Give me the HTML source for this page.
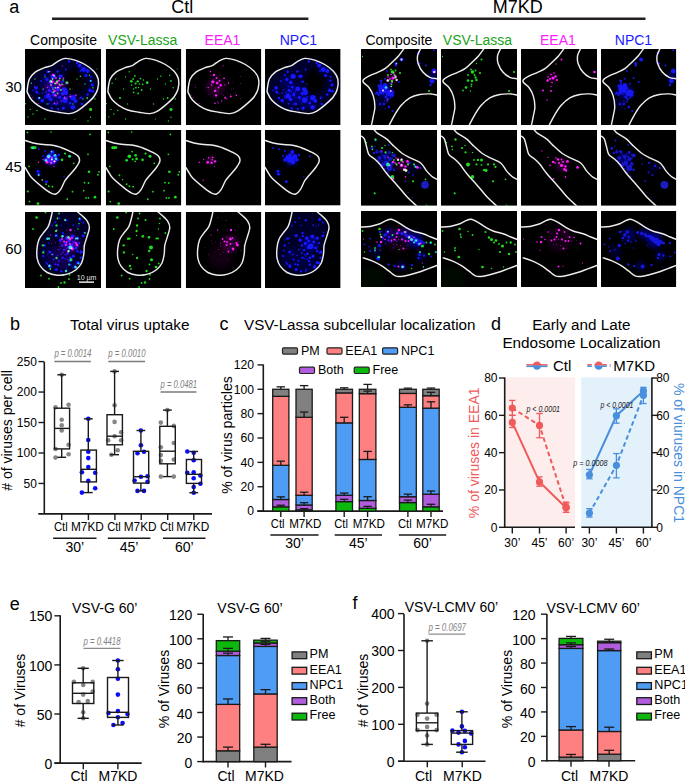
<!DOCTYPE html>
<html><head><meta charset="utf-8"><style>
html,body{margin:0;padding:0;background:#fff;}
body{width:685px;height:782px;overflow:hidden;}
svg{display:block;font-family:'Liberation Sans', sans-serif;}
</style></head><body>
<svg width="685" height="782" viewBox="0 0 685 782">
<defs><filter id="bl" x="-10%" y="-10%" width="120%" height="120%"><feGaussianBlur stdDeviation="0.45"/></filter><filter id="bl2" x="-50%" y="-50%" width="200%" height="200%"><feGaussianBlur stdDeviation="2.2"/></filter><g id="Bc1"><polygon points="2.2,41.0 4.4,30.0 10.0,23.3 18.9,18.9 26.6,16.6 32.2,12.8 40.0,9.4 50.0,11.1 60.0,15.5 68.8,22.2 73.2,30.0 72.7,40.0 68.8,47.7 62.1,54.4 52.1,62.1 44.4,64.6 33.3,63.2 22.2,61.0 13.3,56.6 6.7,51.0 2.8,44.4" fill="#00002e" filter="url(#bl2)"/><ellipse cx="50" cy="32" rx="10" ry="13" fill="#000" filter="url(#bl2)"/><g filter="url(#bl2)"><circle cx="30" cy="45" r="10" fill="#0a0ad2" fill-opacity="0.35"/><circle cx="22" cy="33" r="6" fill="#0a0ad2" fill-opacity="0.3"/><circle cx="58" cy="21" r="5" fill="#0a0ad2" fill-opacity="0.3"/><circle cx="42" cy="52" r="7" fill="#0a0ad2" fill-opacity="0.3"/></g><g filter="url(#bl)"><circle cx="28.40" cy="27.30" r="2.60" fill="#1414ff"/><circle cx="22.70" cy="22.80" r="1.30" fill="#1414ff"/><circle cx="22.00" cy="30.50" r="1.60" fill="#1414ff"/><circle cx="25.90" cy="33.40" r="1.80" fill="#1414ff"/><circle cx="35.50" cy="27.30" r="1.90" fill="#1414ff"/><circle cx="32.60" cy="22.50" r="1.30" fill="#1414ff"/><circle cx="32.90" cy="39.80" r="2.40" fill="#1414ff"/><circle cx="27.50" cy="38.20" r="1.40" fill="#1414ff"/><circle cx="24.30" cy="41.40" r="1.60" fill="#1414ff"/><circle cx="11.20" cy="38.80" r="1.90" fill="#1414ff"/><circle cx="11.80" cy="43.00" r="1.60" fill="#1414ff"/><circle cx="8.30" cy="41.40" r="0.80" fill="#1414ff"/><circle cx="23.00" cy="47.10" r="2.60" fill="#1414ff"/><circle cx="25.60" cy="50.30" r="1.90" fill="#1414ff"/><circle cx="17.30" cy="51.60" r="1.90" fill="#1414ff"/><circle cx="14.10" cy="49.00" r="1.20" fill="#1414ff"/><circle cx="28.80" cy="45.80" r="1.60" fill="#1414ff"/><circle cx="34.50" cy="48.40" r="1.60" fill="#1414ff"/><circle cx="37.70" cy="44.60" r="1.80" fill="#1414ff"/><circle cx="38.30" cy="40.10" r="1.40" fill="#1414ff"/><circle cx="39.00" cy="51.60" r="1.60" fill="#1414ff"/><circle cx="26.80" cy="59.30" r="1.20" fill="#1414ff"/><circle cx="38.30" cy="59.30" r="1.40" fill="#1414ff"/><circle cx="23.60" cy="54.80" r="1.00" fill="#1414ff"/><circle cx="17.30" cy="43.90" r="0.80" fill="#1414ff"/><circle cx="21.10" cy="43.30" r="0.90" fill="#1414ff"/><circle cx="29.40" cy="43.90" r="1.00" fill="#1414ff"/><circle cx="37.00" cy="33.00" r="1.00" fill="#1414ff"/><circle cx="54.50" cy="16.50" r="2.00" fill="#1414ff"/><circle cx="58.50" cy="20.50" r="2.40" fill="#1414ff"/><circle cx="62.60" cy="22.10" r="2.00" fill="#1414ff"/><circle cx="61.00" cy="26.50" r="1.60" fill="#1414ff"/><circle cx="44.00" cy="12.40" r="1.20" fill="#1414ff"/><circle cx="65.80" cy="31.80" r="1.20" fill="#1414ff"/><circle cx="67.40" cy="35.80" r="1.60" fill="#1414ff"/><circle cx="65.00" cy="41.40" r="1.80" fill="#1414ff"/><circle cx="67.80" cy="42.20" r="1.40" fill="#1414ff"/><circle cx="62.60" cy="45.50" r="1.20" fill="#1414ff"/><circle cx="56.10" cy="48.70" r="1.20" fill="#1414ff"/><circle cx="39.60" cy="40.60" r="2.40" fill="#1414ff"/><circle cx="40.80" cy="43.80" r="2.40" fill="#1414ff"/><circle cx="48.10" cy="48.70" r="2.80" fill="#1414ff"/><circle cx="50.50" cy="51.90" r="2.00" fill="#1414ff"/><circle cx="40.00" cy="51.10" r="2.80" fill="#1414ff"/><circle cx="48.00" cy="58.30" r="2.40" fill="#1414ff"/><circle cx="38.40" cy="59.10" r="1.60" fill="#1414ff"/><circle cx="57.00" cy="55.00" r="1.20" fill="#1414ff"/><circle cx="36.80" cy="27.00" r="1.20" fill="#1414ff"/><circle cx="38.40" cy="32.60" r="1.00" fill="#1414ff"/><circle cx="40.80" cy="20.50" r="0.90" fill="#1414ff"/><circle cx="20.00" cy="26.00" r="1.00" fill="#1414ff"/><circle cx="16.00" cy="32.00" r="1.00" fill="#1414ff"/><circle cx="45.00" cy="54.00" r="1.50" fill="#1414ff"/><circle cx="31.00" cy="55.00" r="1.50" fill="#1414ff"/><circle cx="33.00" cy="60.00" r="1.20" fill="#1414ff"/><circle cx="52.00" cy="14.00" r="1.20" fill="#1414ff"/><circle cx="66.00" cy="28.00" r="1.00" fill="#1414ff"/><circle cx="36.47" cy="54.43" r="0.44" fill="#1414ff"/><circle cx="25.70" cy="47.07" r="0.65" fill="#1414ff"/><circle cx="24.52" cy="46.23" r="0.45" fill="#1414ff"/><circle cx="30.39" cy="41.36" r="0.51" fill="#1414ff"/><circle cx="40.42" cy="41.61" r="0.60" fill="#1414ff"/><circle cx="31.09" cy="48.15" r="0.55" fill="#1414ff"/><circle cx="13.74" cy="44.20" r="0.72" fill="#1414ff"/><circle cx="24.56" cy="44.15" r="0.43" fill="#1414ff"/><circle cx="23.53" cy="37.34" r="0.56" fill="#1414ff"/><circle cx="19.92" cy="46.96" r="0.80" fill="#1414ff"/><circle cx="28.48" cy="55.45" r="0.66" fill="#1414ff"/><circle cx="55.44" cy="21.88" r="0.89" fill="#1414ff"/><circle cx="13.35" cy="51.62" r="0.48" fill="#1414ff"/><circle cx="42.41" cy="47.90" r="0.78" fill="#1414ff"/><circle cx="34.15" cy="40.11" r="0.75" fill="#1414ff"/><circle cx="18.32" cy="40.75" r="0.82" fill="#1414ff"/><circle cx="36.03" cy="50.48" r="0.43" fill="#1414ff"/><circle cx="21.63" cy="29.32" r="0.73" fill="#1414ff"/><circle cx="22.11" cy="46.16" r="0.46" fill="#1414ff"/><circle cx="28.60" cy="40.82" r="0.52" fill="#1414ff"/><circle cx="30.83" cy="42.63" r="0.62" fill="#1414ff"/><circle cx="41.75" cy="35.10" r="0.83" fill="#1414ff"/><circle cx="19.88" cy="48.83" r="0.84" fill="#1414ff"/><circle cx="29.20" cy="54.17" r="0.69" fill="#1414ff"/><circle cx="38.42" cy="45.21" r="0.58" fill="#1414ff"/><circle cx="42.65" cy="41.44" r="0.66" fill="#1414ff"/><circle cx="26.51" cy="42.62" r="0.85" fill="#1414ff"/><circle cx="24.24" cy="47.22" r="0.72" fill="#1414ff"/><circle cx="34.24" cy="47.25" r="0.48" fill="#1414ff"/><circle cx="28.20" cy="45.06" r="0.48" fill="#1414ff"/></g></g><g id="Mc1"><g filter="url(#bl2)"><circle cx="30" cy="38" r="10" fill="#c800c8" fill-opacity="0.18"/></g><g filter="url(#bl)"><circle cx="28.30" cy="26.00" r="1.20" fill="#ff1aff"/><circle cx="27.20" cy="32.80" r="1.60" fill="#ff1aff"/><circle cx="31.70" cy="34.00" r="1.36" fill="#ff1aff"/><circle cx="35.10" cy="36.20" r="1.20" fill="#ff1aff"/><circle cx="34.00" cy="31.70" r="1.04" fill="#ff1aff"/><circle cx="29.40" cy="41.90" r="1.20" fill="#ff1aff"/><circle cx="30.50" cy="46.40" r="1.20" fill="#ff1aff"/><circle cx="39.60" cy="48.70" r="0.96" fill="#ff1aff"/><circle cx="45.30" cy="47.50" r="0.96" fill="#ff1aff"/><circle cx="50.90" cy="46.40" r="0.80" fill="#ff1aff"/><circle cx="29.40" cy="54.30" r="0.80" fill="#ff1aff"/><circle cx="24.90" cy="22.60" r="0.80" fill="#ff1aff"/><circle cx="38.50" cy="29.40" r="0.80" fill="#ff1aff"/><circle cx="43.00" cy="34.00" r="0.80" fill="#ff1aff"/><circle cx="22.60" cy="38.50" r="0.64" fill="#ff1aff"/><circle cx="36.20" cy="52.00" r="0.64" fill="#ff1aff"/><circle cx="31.00" cy="29.00" r="0.96" fill="#ff1aff"/><circle cx="33.00" cy="38.50" r="0.96" fill="#ff1aff"/><circle cx="26.00" cy="36.00" r="0.80" fill="#ff1aff"/><circle cx="34.62" cy="26.22" r="0.43" fill="#ff1aff"/><circle cx="38.06" cy="46.12" r="0.45" fill="#ff1aff"/><circle cx="31.41" cy="39.35" r="0.26" fill="#ff1aff"/><circle cx="25.05" cy="26.46" r="0.43" fill="#ff1aff"/><circle cx="20.77" cy="38.84" r="0.37" fill="#ff1aff"/><circle cx="38.76" cy="35.87" r="0.52" fill="#ff1aff"/><circle cx="39.63" cy="63.37" r="0.30" fill="#ff1aff"/><circle cx="41.43" cy="49.47" r="0.51" fill="#ff1aff"/><circle cx="38.60" cy="29.22" r="0.50" fill="#ff1aff"/><circle cx="35.74" cy="61.21" r="0.38" fill="#ff1aff"/><circle cx="45.79" cy="40.26" r="0.37" fill="#ff1aff"/><circle cx="39.40" cy="47.10" r="0.33" fill="#ff1aff"/><circle cx="40.42" cy="35.20" r="0.35" fill="#ff1aff"/><circle cx="47.67" cy="39.90" r="0.34" fill="#ff1aff"/><circle cx="32.46" cy="43.11" r="0.27" fill="#ff1aff"/><circle cx="31.70" cy="51.90" r="0.29" fill="#ff1aff"/><circle cx="54.98" cy="34.35" r="0.47" fill="#ff1aff"/><circle cx="55.37" cy="27.70" r="0.40" fill="#ff1aff"/><circle cx="50.00" cy="44.97" r="0.37" fill="#ff1aff"/><circle cx="27.44" cy="33.53" r="0.25" fill="#ff1aff"/><circle cx="9.68" cy="35.89" r="0.34" fill="#ff1aff"/><circle cx="27.82" cy="32.97" r="0.40" fill="#ff1aff"/><circle cx="36.24" cy="45.16" r="0.30" fill="#ff1aff"/><circle cx="37.78" cy="16.72" r="0.50" fill="#ff1aff"/><circle cx="41.47" cy="44.94" r="0.27" fill="#ff1aff"/><circle cx="32.25" cy="52.97" r="0.50" fill="#ff1aff"/><circle cx="23.29" cy="45.39" r="0.39" fill="#ff1aff"/><circle cx="30.93" cy="43.04" r="0.32" fill="#ff1aff"/><circle cx="9.57" cy="38.26" r="0.42" fill="#ff1aff"/><circle cx="16.41" cy="20.60" r="0.31" fill="#ff1aff"/><circle cx="7.27" cy="48.28" r="0.48" fill="#ff1aff"/><circle cx="42.88" cy="33.10" r="0.41" fill="#ff1aff"/><circle cx="13.46" cy="54.41" r="0.48" fill="#ff1aff"/><circle cx="40.56" cy="50.03" r="0.44" fill="#ff1aff"/><circle cx="54.85" cy="49.20" r="0.46" fill="#ff1aff"/><circle cx="30.04" cy="39.10" r="0.47" fill="#ff1aff"/><circle cx="46.88" cy="33.06" r="0.33" fill="#ff1aff"/><circle cx="32.82" cy="54.22" r="0.44" fill="#ff1aff"/><circle cx="45.12" cy="45.22" r="0.41" fill="#ff1aff"/><circle cx="35.46" cy="53.37" r="0.24" fill="#ff1aff"/><circle cx="6.05" cy="46.18" r="0.43" fill="#ff1aff"/><circle cx="36.12" cy="17.84" r="0.31" fill="#ff1aff"/><circle cx="53.55" cy="23.36" r="0.25" fill="#ff1aff"/><circle cx="27.75" cy="30.72" r="0.31" fill="#ff1aff"/><circle cx="40.03" cy="36.75" r="0.25" fill="#ff1aff"/></g></g><g id="Gc1"><g filter="url(#bl)"><circle cx="25.70" cy="32.30" r="1.35" fill="#1edc1e"/><circle cx="32.10" cy="32.30" r="1.17" fill="#1edc1e"/><circle cx="41.70" cy="33.70" r="1.35" fill="#1edc1e"/><circle cx="29.20" cy="26.90" r="0.90" fill="#1edc1e"/><circle cx="34.80" cy="29.60" r="0.90" fill="#1edc1e"/><circle cx="37.10" cy="35.30" r="0.90" fill="#1edc1e"/><circle cx="30.30" cy="38.70" r="0.90" fill="#1edc1e"/><circle cx="36.00" cy="41.00" r="0.90" fill="#1edc1e"/><circle cx="28.00" cy="43.30" r="0.90" fill="#1edc1e"/><circle cx="32.60" cy="44.40" r="0.90" fill="#1edc1e"/><circle cx="23.50" cy="22.80" r="0.72" fill="#1edc1e"/><circle cx="14.30" cy="49.00" r="1.08" fill="#1edc1e"/><circle cx="6.40" cy="34.20" r="0.72" fill="#1edc1e"/><circle cx="65.60" cy="60.40" r="1.53" fill="#1edc1e"/><circle cx="62.20" cy="49.00" r="0.90" fill="#1edc1e"/><circle cx="65.60" cy="31.90" r="0.90" fill="#1edc1e"/><circle cx="67.90" cy="38.70" r="0.72" fill="#1edc1e"/><circle cx="64.40" cy="26.20" r="0.72" fill="#1edc1e"/><circle cx="55.30" cy="27.30" r="0.72" fill="#1edc1e"/><circle cx="5.20" cy="60.40" r="0.72" fill="#1edc1e"/><circle cx="12.00" cy="61.50" r="0.72" fill="#1edc1e"/><circle cx="65.60" cy="68.30" r="0.72" fill="#1edc1e"/><circle cx="0.70" cy="54.70" r="0.63" fill="#1edc1e"/><circle cx="42.80" cy="9.60" r="0.54" fill="#1edc1e"/><circle cx="27.50" cy="30.00" r="0.90" fill="#1edc1e"/><circle cx="30.00" cy="34.50" r="1.08" fill="#1edc1e"/><circle cx="34.00" cy="35.00" r="0.81" fill="#1edc1e"/><circle cx="38.00" cy="31.00" r="0.81" fill="#1edc1e"/><circle cx="26.00" cy="36.00" r="0.72" fill="#1edc1e"/><circle cx="33.00" cy="38.50" r="0.72" fill="#1edc1e"/><circle cx="28.00" cy="40.00" r="0.72" fill="#1edc1e"/><circle cx="20.00" cy="28.00" r="0.63" fill="#1edc1e"/><circle cx="18.00" cy="40.00" r="0.63" fill="#1edc1e"/><circle cx="45.00" cy="40.00" r="0.72" fill="#1edc1e"/><circle cx="52.00" cy="30.00" r="0.63" fill="#1edc1e"/><circle cx="60.00" cy="35.00" r="0.63" fill="#1edc1e"/><circle cx="58.00" cy="50.00" r="0.63" fill="#1edc1e"/><circle cx="48.00" cy="55.00" r="0.63" fill="#1edc1e"/><circle cx="22.00" cy="55.00" r="0.63" fill="#1edc1e"/><circle cx="10.00" cy="30.00" r="0.63" fill="#1edc1e"/><circle cx="70.00" cy="50.00" r="0.63" fill="#1edc1e"/><circle cx="3.00" cy="68.00" r="0.63" fill="#1edc1e"/><circle cx="20.00" cy="70.00" r="0.63" fill="#1edc1e"/><circle cx="8.00" cy="65.00" r="0.72" fill="#1edc1e"/><circle cx="63.00" cy="72.00" r="0.63" fill="#1edc1e"/><circle cx="50.00" cy="70.00" r="0.54" fill="#1edc1e"/><circle cx="72.00" cy="20.00" r="0.54" fill="#1edc1e"/></g></g><g id="Oc1"><path d="M2.20,41.00 C2.47,38.60 3.10,32.95 4.40,30.00 C5.70,27.05 7.58,25.15 10.00,23.30 C12.42,21.45 16.13,20.02 18.90,18.90 C21.67,17.78 24.38,17.62 26.60,16.60 C28.82,15.58 29.97,14.00 32.20,12.80 C34.43,11.60 37.03,9.68 40.00,9.40 C42.97,9.12 46.67,10.08 50.00,11.10 C53.33,12.12 56.87,13.65 60.00,15.50 C63.13,17.35 66.60,19.78 68.80,22.20 C71.00,24.62 72.55,27.03 73.20,30.00 C73.85,32.97 73.43,37.05 72.70,40.00 C71.97,42.95 70.57,45.30 68.80,47.70 C67.03,50.10 64.88,52.00 62.10,54.40 C59.32,56.80 55.05,60.40 52.10,62.10 C49.15,63.80 47.53,64.42 44.40,64.60 C41.27,64.78 37.00,63.80 33.30,63.20 C29.60,62.60 25.53,62.10 22.20,61.00 C18.87,59.90 15.88,58.27 13.30,56.60 C10.72,54.93 8.45,53.03 6.70,51.00 C4.95,48.97 3.55,46.07 2.80,44.40 C2.05,42.73 1.93,43.40 2.20,41.00 Z" fill="none" stroke="#ececec" stroke-width="1.45"/></g><g id="Bc2"><g filter="url(#bl2)"><circle cx="26.5" cy="29" r="6.5" fill="#0a0ad2" fill-opacity="0.7"/><circle cx="13.3" cy="43" r="2.5" fill="#0a0ad2" fill-opacity="0.5"/></g><g filter="url(#bl)"><circle cx="26.50" cy="29.50" r="3.00" fill="#1414ff"/><circle cx="23.00" cy="28.00" r="2.50" fill="#1414ff"/><circle cx="30.00" cy="27.00" r="2.50" fill="#1414ff"/><circle cx="28.00" cy="32.00" r="2.50" fill="#1414ff"/><circle cx="24.00" cy="31.00" r="2.00" fill="#1414ff"/><circle cx="20.00" cy="30.00" r="1.80" fill="#1414ff"/><circle cx="32.00" cy="30.00" r="1.80" fill="#1414ff"/><circle cx="27.50" cy="22.00" r="2.00" fill="#1414ff"/><circle cx="25.00" cy="25.00" r="1.60" fill="#1414ff"/><circle cx="13.00" cy="41.50" r="1.50" fill="#1414ff"/><circle cx="13.60" cy="44.50" r="1.50" fill="#1414ff"/><circle cx="21.50" cy="52.00" r="1.50" fill="#1414ff"/><circle cx="8.00" cy="18.00" r="1.00" fill="#1414ff"/><circle cx="14.00" cy="19.00" r="1.00" fill="#1414ff"/><circle cx="20.00" cy="21.00" r="1.00" fill="#1414ff"/><circle cx="45.00" cy="26.50" r="1.00" fill="#1414ff"/><circle cx="39.00" cy="47.00" r="0.80" fill="#1414ff"/><circle cx="34.00" cy="25.00" r="1.20" fill="#1414ff"/><circle cx="18.00" cy="26.00" r="1.00" fill="#1414ff"/></g></g><g id="Mc2"><g filter="url(#bl2)"><circle cx="25" cy="31" r="4" fill="#c800c8" fill-opacity="0.3"/></g><g filter="url(#bl)"><circle cx="22.00" cy="32.50" r="1.36" fill="#ff1aff"/><circle cx="26.00" cy="33.00" r="1.20" fill="#ff1aff"/><circle cx="29.50" cy="31.50" r="1.20" fill="#ff1aff"/><circle cx="23.00" cy="28.00" r="0.80" fill="#ff1aff"/><circle cx="27.00" cy="27.50" r="0.96" fill="#ff1aff"/><circle cx="26.50" cy="30.00" r="0.80" fill="#ff1aff"/><circle cx="13.50" cy="32.50" r="0.80" fill="#ff1aff"/><circle cx="18.00" cy="29.50" r="0.64" fill="#ff1aff"/><circle cx="17.50" cy="50.50" r="0.64" fill="#ff1aff"/><circle cx="29.00" cy="36.50" r="0.56" fill="#ff1aff"/></g></g><g id="Gc2"><g filter="url(#bl)"><circle cx="8.50" cy="17.80" r="1.62" fill="#1edc1e"/><circle cx="6.80" cy="17.80" r="1.35" fill="#1edc1e"/><circle cx="10.20" cy="17.80" r="1.35" fill="#1edc1e"/><circle cx="26.00" cy="2.00" r="0.81" fill="#1edc1e"/><circle cx="2.50" cy="2.50" r="0.90" fill="#1edc1e"/><circle cx="65.00" cy="4.50" r="0.90" fill="#1edc1e"/><circle cx="23.70" cy="26.50" r="1.80" fill="#1edc1e"/><circle cx="30.00" cy="25.50" r="1.35" fill="#1edc1e"/><circle cx="26.50" cy="21.70" r="0.90" fill="#1edc1e"/><circle cx="21.00" cy="30.50" r="1.35" fill="#1edc1e"/><circle cx="27.00" cy="29.50" r="1.08" fill="#1edc1e"/><circle cx="31.00" cy="29.00" r="1.35" fill="#1edc1e"/><circle cx="29.50" cy="31.50" r="0.90" fill="#1edc1e"/><circle cx="37.00" cy="30.00" r="1.35" fill="#1edc1e"/><circle cx="40.00" cy="23.70" r="1.08" fill="#1edc1e"/><circle cx="44.50" cy="26.30" r="1.53" fill="#1edc1e"/><circle cx="48.80" cy="33.50" r="0.90" fill="#1edc1e"/><circle cx="4.00" cy="36.50" r="0.90" fill="#1edc1e"/><circle cx="63.00" cy="24.50" r="0.90" fill="#1edc1e"/><circle cx="64.00" cy="42.00" r="1.35" fill="#1edc1e"/><circle cx="13.70" cy="45.50" r="0.90" fill="#1edc1e"/><circle cx="17.00" cy="50.00" r="0.72" fill="#1edc1e"/><circle cx="21.00" cy="54.50" r="0.90" fill="#1edc1e"/><circle cx="23.70" cy="56.50" r="0.90" fill="#1edc1e"/><circle cx="27.50" cy="57.00" r="0.90" fill="#1edc1e"/><circle cx="2.80" cy="61.80" r="1.08" fill="#1edc1e"/><circle cx="47.50" cy="62.00" r="0.90" fill="#1edc1e"/><circle cx="59.50" cy="53.00" r="0.90" fill="#1edc1e"/><circle cx="63.50" cy="53.30" r="0.90" fill="#1edc1e"/><circle cx="58.70" cy="61.00" r="0.90" fill="#1edc1e"/><circle cx="61.00" cy="68.30" r="0.90" fill="#1edc1e"/><circle cx="63.50" cy="68.30" r="0.90" fill="#1edc1e"/><circle cx="70.00" cy="67.50" r="1.35" fill="#1edc1e"/><circle cx="42.30" cy="69.60" r="0.90" fill="#1edc1e"/><circle cx="13.00" cy="74.00" r="1.35" fill="#1edc1e"/><circle cx="4.50" cy="72.00" r="0.90" fill="#1edc1e"/><circle cx="73.00" cy="45.00" r="0.90" fill="#1edc1e"/><circle cx="74.00" cy="42.00" r="0.90" fill="#1edc1e"/></g></g><g id="Oc2"><path d="M-1.00,10.30 C-0.83,10.33 -2.20,9.90 0.00,10.50 C2.20,11.10 7.40,13.07 12.20,13.90 C17.00,14.73 24.73,14.85 28.80,15.50 C32.87,16.15 33.63,16.68 36.60,17.80 C39.57,18.92 43.82,20.73 46.60,22.20 C49.38,23.67 52.00,25.03 53.30,26.60 C54.60,28.17 54.78,29.75 54.40,31.60 C54.02,33.45 52.67,35.38 51.00,37.70 C49.33,40.02 46.23,43.28 44.40,45.50 C42.57,47.72 41.48,48.58 40.00,51.00 C38.52,53.42 37.00,57.77 35.50,60.00 C34.00,62.23 32.67,63.87 31.00,64.40 C29.33,64.93 27.70,64.32 25.50,63.20 C23.30,62.08 20.93,60.23 17.80,57.70 C14.67,55.17 9.30,50.75 6.70,48.00 C4.10,45.25 3.32,42.93 2.20,41.20 C1.08,39.47 0.53,38.25 0.00,37.60 C-0.53,36.95 -0.83,37.35 -1.00,37.30" fill="none" stroke="#ececec" stroke-width="1.45"/></g><g id="Bc3"><polygon points="27.4,-1.0 27.2,0.0 26.0,5.5 23.3,14.4 17.8,21.6 13.9,27.7 12.0,36.6 12.2,46.6 15.5,54.4 22.2,60.5 32.2,63.2 42.2,62.1 51.0,57.7 56.6,51.0 58.8,42.2 59.4,33.3 62.1,24.4 64.4,15.5 62.1,8.9 56.6,3.3 52.7,0.0 51.5,-1.0" fill="#000026" filter="url(#bl2)"/><g filter="url(#bl2)"><circle cx="45" cy="32" r="8" fill="#0a0ad2" fill-opacity="0.4"/><circle cx="28" cy="45" r="10" fill="#0a0ad2" fill-opacity="0.15"/><circle cx="42" cy="52" r="8" fill="#0a0ad2" fill-opacity="0.15"/></g><g filter="url(#bl)"><circle cx="41.10" cy="8.20" r="1.20" fill="#1414ff"/><circle cx="34.50" cy="6.10" r="0.90" fill="#1414ff"/><circle cx="30.40" cy="10.20" r="1.00" fill="#1414ff"/><circle cx="55.00" cy="7.40" r="1.60" fill="#1414ff"/><circle cx="58.20" cy="10.60" r="1.00" fill="#1414ff"/><circle cx="48.40" cy="13.10" r="0.90" fill="#1414ff"/><circle cx="27.20" cy="13.50" r="0.90" fill="#1414ff"/><circle cx="37.80" cy="20.90" r="1.20" fill="#1414ff"/><circle cx="31.30" cy="23.70" r="1.60" fill="#1414ff"/><circle cx="58.20" cy="23.70" r="1.50" fill="#1414ff"/><circle cx="59.00" cy="20.40" r="0.90" fill="#1414ff"/><circle cx="22.30" cy="26.60" r="1.20" fill="#1414ff"/><circle cx="24.00" cy="26.60" r="1.00" fill="#1414ff"/><circle cx="41.90" cy="26.20" r="1.80" fill="#1414ff"/><circle cx="47.60" cy="24.50" r="2.00" fill="#1414ff"/><circle cx="52.50" cy="26.20" r="1.60" fill="#1414ff"/><circle cx="35.30" cy="28.20" r="1.80" fill="#1414ff"/><circle cx="40.70" cy="31.50" r="1.80" fill="#1414ff"/><circle cx="46.00" cy="34.30" r="2.80" fill="#1414ff"/><circle cx="43.90" cy="35.20" r="2.00" fill="#1414ff"/><circle cx="54.20" cy="31.10" r="1.20" fill="#1414ff"/><circle cx="50.90" cy="36.00" r="1.60" fill="#1414ff"/><circle cx="19.80" cy="33.50" r="1.20" fill="#1414ff"/><circle cx="37.00" cy="33.50" r="1.20" fill="#1414ff"/><circle cx="39.40" cy="38.00" r="1.20" fill="#1414ff"/><circle cx="42.70" cy="41.70" r="1.20" fill="#1414ff"/><circle cx="48.40" cy="44.20" r="1.60" fill="#1414ff"/><circle cx="24.70" cy="40.00" r="1.50" fill="#1414ff"/><circle cx="28.00" cy="42.50" r="1.00" fill="#1414ff"/><circle cx="19.00" cy="38.40" r="0.90" fill="#1414ff"/><circle cx="18.20" cy="44.20" r="1.00" fill="#1414ff"/><circle cx="56.60" cy="40.00" r="1.20" fill="#1414ff"/><circle cx="55.80" cy="45.80" r="1.20" fill="#1414ff"/><circle cx="37.80" cy="45.80" r="1.20" fill="#1414ff"/><circle cx="33.70" cy="49.00" r="1.00" fill="#1414ff"/><circle cx="44.30" cy="49.00" r="1.20" fill="#1414ff"/><circle cx="52.50" cy="50.70" r="1.60" fill="#1414ff"/><circle cx="24.70" cy="53.10" r="1.20" fill="#1414ff"/><circle cx="30.40" cy="52.30" r="1.00" fill="#1414ff"/><circle cx="28.80" cy="47.40" r="1.00" fill="#1414ff"/><circle cx="21.40" cy="50.70" r="0.90" fill="#1414ff"/><circle cx="50.00" cy="54.00" r="1.20" fill="#1414ff"/><circle cx="45.20" cy="45.80" r="1.40" fill="#1414ff"/><circle cx="52.50" cy="39.20" r="1.20" fill="#1414ff"/><circle cx="42.70" cy="41.70" r="1.20" fill="#1414ff"/><circle cx="55.80" cy="40.50" r="1.40" fill="#1414ff"/><circle cx="54.20" cy="51.10" r="1.40" fill="#1414ff"/><circle cx="50.00" cy="55.20" r="1.60" fill="#1414ff"/><circle cx="45.20" cy="52.70" r="1.20" fill="#1414ff"/><circle cx="32.90" cy="52.70" r="1.20" fill="#1414ff"/><circle cx="25.10" cy="54.40" r="1.60" fill="#1414ff"/><circle cx="31.30" cy="57.60" r="1.60" fill="#1414ff"/><circle cx="36.20" cy="59.30" r="1.20" fill="#1414ff"/><circle cx="41.10" cy="58.80" r="1.00" fill="#1414ff"/><circle cx="22.30" cy="51.90" r="1.00" fill="#1414ff"/><circle cx="18.20" cy="44.10" r="1.00" fill="#1414ff"/><circle cx="37.00" cy="41.30" r="1.00" fill="#1414ff"/><circle cx="44.00" cy="29.00" r="1.50" fill="#1414ff"/><circle cx="49.00" cy="30.00" r="1.50" fill="#1414ff"/><circle cx="38.00" cy="24.00" r="1.20" fill="#1414ff"/><circle cx="42.66" cy="41.72" r="0.75" fill="#1414ff"/><circle cx="40.97" cy="43.86" r="0.74" fill="#1414ff"/><circle cx="35.42" cy="36.77" r="0.43" fill="#1414ff"/><circle cx="40.12" cy="46.55" r="0.73" fill="#1414ff"/><circle cx="50.81" cy="49.97" r="0.41" fill="#1414ff"/><circle cx="19.84" cy="27.87" r="0.47" fill="#1414ff"/><circle cx="40.48" cy="59.21" r="0.53" fill="#1414ff"/><circle cx="53.83" cy="13.17" r="0.74" fill="#1414ff"/><circle cx="35.61" cy="38.96" r="0.41" fill="#1414ff"/><circle cx="42.72" cy="47.61" r="0.68" fill="#1414ff"/><circle cx="44.86" cy="46.55" r="0.48" fill="#1414ff"/><circle cx="34.76" cy="25.30" r="0.43" fill="#1414ff"/><circle cx="36.33" cy="13.57" r="0.72" fill="#1414ff"/><circle cx="51.54" cy="14.65" r="0.56" fill="#1414ff"/><circle cx="57.66" cy="34.73" r="0.47" fill="#1414ff"/><circle cx="49.95" cy="26.63" r="0.62" fill="#1414ff"/><circle cx="55.66" cy="26.50" r="0.48" fill="#1414ff"/><circle cx="42.22" cy="47.15" r="0.63" fill="#1414ff"/><circle cx="39.83" cy="42.58" r="0.76" fill="#1414ff"/><circle cx="32.50" cy="43.44" r="0.76" fill="#1414ff"/><circle cx="53.23" cy="34.17" r="0.61" fill="#1414ff"/><circle cx="53.63" cy="41.26" r="0.47" fill="#1414ff"/><circle cx="45.68" cy="34.14" r="0.59" fill="#1414ff"/><circle cx="42.29" cy="24.77" r="0.61" fill="#1414ff"/><circle cx="44.91" cy="35.37" r="0.62" fill="#1414ff"/><circle cx="41.39" cy="56.96" r="0.60" fill="#1414ff"/><circle cx="45.25" cy="17.97" r="0.58" fill="#1414ff"/><circle cx="38.42" cy="38.92" r="0.68" fill="#1414ff"/><circle cx="33.96" cy="37.63" r="0.78" fill="#1414ff"/><circle cx="23.93" cy="31.25" r="0.74" fill="#1414ff"/></g></g><g id="Mc3"><g filter="url(#bl2)"><circle cx="45" cy="31" r="9" fill="#c800c8" fill-opacity="0.2"/><circle cx="35" cy="45" r="12" fill="#c800c8" fill-opacity="0.08"/></g><g filter="url(#bl)"><circle cx="45.50" cy="18.00" r="1.19" fill="#ff1aff"/><circle cx="32.00" cy="18.00" r="0.70" fill="#ff1aff"/><circle cx="37.00" cy="27.00" r="0.91" fill="#ff1aff"/><circle cx="39.00" cy="29.50" r="1.05" fill="#ff1aff"/><circle cx="41.50" cy="30.00" r="0.91" fill="#ff1aff"/><circle cx="45.00" cy="27.00" r="1.40" fill="#ff1aff"/><circle cx="47.00" cy="26.00" r="0.91" fill="#ff1aff"/><circle cx="41.00" cy="33.00" r="1.05" fill="#ff1aff"/><circle cx="45.00" cy="32.00" r="1.05" fill="#ff1aff"/><circle cx="52.00" cy="33.00" r="1.40" fill="#ff1aff"/><circle cx="51.00" cy="31.00" r="1.05" fill="#ff1aff"/><circle cx="47.50" cy="37.00" r="1.40" fill="#ff1aff"/><circle cx="43.00" cy="39.50" r="0.91" fill="#ff1aff"/><circle cx="25.50" cy="23.00" r="0.56" fill="#ff1aff"/><circle cx="40.50" cy="8.50" r="0.49" fill="#ff1aff"/><circle cx="35.00" cy="31.00" r="0.49" fill="#ff1aff"/><circle cx="49.80" cy="39.48" r="0.23" fill="#ff1aff"/><circle cx="55.34" cy="38.60" r="0.37" fill="#ff1aff"/><circle cx="38.49" cy="37.59" r="0.28" fill="#ff1aff"/><circle cx="50.92" cy="33.02" r="0.34" fill="#ff1aff"/><circle cx="58.84" cy="36.28" r="0.27" fill="#ff1aff"/><circle cx="22.56" cy="42.33" r="0.38" fill="#ff1aff"/><circle cx="55.26" cy="50.09" r="0.33" fill="#ff1aff"/><circle cx="32.32" cy="5.50" r="0.41" fill="#ff1aff"/><circle cx="35.26" cy="42.75" r="0.40" fill="#ff1aff"/><circle cx="50.42" cy="40.88" r="0.26" fill="#ff1aff"/><circle cx="43.70" cy="34.73" r="0.25" fill="#ff1aff"/><circle cx="36.28" cy="47.88" r="0.27" fill="#ff1aff"/><circle cx="46.04" cy="40.30" r="0.21" fill="#ff1aff"/><circle cx="58.18" cy="33.56" r="0.33" fill="#ff1aff"/><circle cx="18.94" cy="35.69" r="0.23" fill="#ff1aff"/><circle cx="32.85" cy="37.62" r="0.39" fill="#ff1aff"/><circle cx="26.76" cy="31.36" r="0.42" fill="#ff1aff"/><circle cx="49.74" cy="18.38" r="0.34" fill="#ff1aff"/><circle cx="40.08" cy="34.74" r="0.24" fill="#ff1aff"/><circle cx="41.56" cy="24.33" r="0.24" fill="#ff1aff"/><circle cx="52.97" cy="15.01" r="0.35" fill="#ff1aff"/><circle cx="42.41" cy="40.32" r="0.31" fill="#ff1aff"/><circle cx="34.63" cy="34.61" r="0.41" fill="#ff1aff"/><circle cx="41.58" cy="18.58" r="0.41" fill="#ff1aff"/><circle cx="41.71" cy="32.36" r="0.29" fill="#ff1aff"/><circle cx="35.30" cy="31.88" r="0.32" fill="#ff1aff"/><circle cx="41.61" cy="36.32" r="0.29" fill="#ff1aff"/><circle cx="50.43" cy="33.20" r="0.26" fill="#ff1aff"/><circle cx="25.62" cy="28.96" r="0.35" fill="#ff1aff"/><circle cx="47.66" cy="31.45" r="0.36" fill="#ff1aff"/><circle cx="47.68" cy="55.77" r="0.38" fill="#ff1aff"/><circle cx="30.28" cy="30.24" r="0.39" fill="#ff1aff"/><circle cx="51.90" cy="52.69" r="0.26" fill="#ff1aff"/><circle cx="48.34" cy="39.02" r="0.23" fill="#ff1aff"/><circle cx="42.45" cy="47.71" r="0.34" fill="#ff1aff"/><circle cx="37.19" cy="0.25" r="0.38" fill="#ff1aff"/><circle cx="38.23" cy="40.68" r="0.35" fill="#ff1aff"/><circle cx="41.37" cy="24.40" r="0.23" fill="#ff1aff"/><circle cx="41.12" cy="25.28" r="0.37" fill="#ff1aff"/><circle cx="37.54" cy="29.07" r="0.31" fill="#ff1aff"/></g></g><g id="Gc3"><g filter="url(#bl)"><circle cx="11.60" cy="5.50" r="1.35" fill="#1edc1e"/><circle cx="8.00" cy="17.00" r="0.90" fill="#1edc1e"/><circle cx="20.50" cy="0.50" r="0.90" fill="#1edc1e"/><circle cx="32.50" cy="6.50" r="0.90" fill="#1edc1e"/><circle cx="34.00" cy="1.50" r="0.90" fill="#1edc1e"/><circle cx="40.00" cy="8.00" r="1.08" fill="#1edc1e"/><circle cx="31.50" cy="13.50" r="1.17" fill="#1edc1e"/><circle cx="31.00" cy="19.00" r="1.17" fill="#1edc1e"/><circle cx="31.00" cy="23.50" r="0.72" fill="#1edc1e"/><circle cx="37.30" cy="24.30" r="1.35" fill="#1edc1e"/><circle cx="43.50" cy="25.30" r="1.35" fill="#1edc1e"/><circle cx="52.50" cy="26.50" r="1.08" fill="#1edc1e"/><circle cx="51.00" cy="26.50" r="1.08" fill="#1edc1e"/><circle cx="22.50" cy="26.70" r="1.26" fill="#1edc1e"/><circle cx="24.00" cy="26.70" r="1.08" fill="#1edc1e"/><circle cx="18.00" cy="33.30" r="1.17" fill="#1edc1e"/><circle cx="18.20" cy="40.40" r="1.17" fill="#1edc1e"/><circle cx="45.50" cy="35.50" r="1.98" fill="#1edc1e"/><circle cx="43.70" cy="39.00" r="1.26" fill="#1edc1e"/><circle cx="31.50" cy="46.00" r="1.17" fill="#1edc1e"/><circle cx="46.00" cy="47.70" r="1.53" fill="#1edc1e"/><circle cx="27.00" cy="42.50" r="0.72" fill="#1edc1e"/><circle cx="44.00" cy="52.50" r="0.90" fill="#1edc1e"/><circle cx="24.30" cy="54.00" r="1.26" fill="#1edc1e"/><circle cx="25.30" cy="57.00" r="0.90" fill="#1edc1e"/><circle cx="50.60" cy="55.00" r="1.35" fill="#1edc1e"/><circle cx="41.00" cy="59.00" r="1.17" fill="#1edc1e"/><circle cx="60.00" cy="21.00" r="0.90" fill="#1edc1e"/><circle cx="54.50" cy="6.50" r="0.90" fill="#1edc1e"/><circle cx="53.30" cy="51.50" r="0.90" fill="#1edc1e"/><circle cx="16.00" cy="63.50" r="0.90" fill="#1edc1e"/><circle cx="24.00" cy="66.70" r="0.90" fill="#1edc1e"/><circle cx="44.50" cy="62.80" r="0.90" fill="#1edc1e"/><circle cx="38.00" cy="63.00" r="0.90" fill="#1edc1e"/><circle cx="44.00" cy="67.00" r="0.90" fill="#1edc1e"/><circle cx="39.50" cy="70.50" r="1.17" fill="#1edc1e"/><circle cx="36.00" cy="71.00" r="0.90" fill="#1edc1e"/><circle cx="33.50" cy="75.00" r="0.90" fill="#1edc1e"/><circle cx="54.00" cy="11.50" r="0.72" fill="#1edc1e"/><circle cx="53.00" cy="17.00" r="0.72" fill="#1edc1e"/></g></g><g id="Oc3"><path d="M27.40,-1.00 C27.37,-0.83 27.43,-1.08 27.20,0.00 C26.97,1.08 26.65,3.10 26.00,5.50 C25.35,7.90 24.67,11.72 23.30,14.40 C21.93,17.08 19.37,19.38 17.80,21.60 C16.23,23.82 14.87,25.20 13.90,27.70 C12.93,30.20 12.28,33.45 12.00,36.60 C11.72,39.75 11.62,43.63 12.20,46.60 C12.78,49.57 13.83,52.08 15.50,54.40 C17.17,56.72 19.42,59.03 22.20,60.50 C24.98,61.97 28.87,62.93 32.20,63.20 C35.53,63.47 39.07,63.02 42.20,62.10 C45.33,61.18 48.60,59.55 51.00,57.70 C53.40,55.85 55.30,53.58 56.60,51.00 C57.90,48.42 58.33,45.15 58.80,42.20 C59.27,39.25 58.85,36.27 59.40,33.30 C59.95,30.33 61.27,27.37 62.10,24.40 C62.93,21.43 64.40,18.08 64.40,15.50 C64.40,12.92 63.40,10.93 62.10,8.90 C60.80,6.87 58.17,4.78 56.60,3.30 C55.03,1.82 53.55,0.72 52.70,0.00 C51.85,-0.72 51.70,-0.83 51.50,-1.00" fill="none" stroke="#ececec" stroke-width="1.45"/></g><g id="Bk1"><g filter="url(#bl2)"><circle cx="23" cy="42" r="7" fill="#0a0ad2" fill-opacity="0.55"/><circle cx="28" cy="44" r="5" fill="#0a0ad2" fill-opacity="0.5"/><circle cx="72" cy="27" r="4" fill="#0a0ad2" fill-opacity="0.5"/><circle cx="20" cy="55" r="5" fill="#0a0ad2" fill-opacity="0.3"/></g><g filter="url(#bl)"><circle cx="21.50" cy="40.00" r="4.00" fill="#1616f0"/><circle cx="29.00" cy="44.00" r="3.50" fill="#1616f0"/><circle cx="24.00" cy="36.00" r="2.00" fill="#1616f0"/><circle cx="18.00" cy="37.00" r="1.50" fill="#1616f0"/><circle cx="16.00" cy="44.00" r="1.50" fill="#1616f0"/><circle cx="20.00" cy="32.00" r="1.50" fill="#1616f0"/><circle cx="25.00" cy="48.00" r="1.50" fill="#1616f0"/><circle cx="27.00" cy="50.00" r="1.20" fill="#1616f0"/><circle cx="19.00" cy="55.00" r="1.20" fill="#1616f0"/><circle cx="23.00" cy="55.00" r="1.20" fill="#1616f0"/><circle cx="28.00" cy="58.00" r="1.20" fill="#1616f0"/><circle cx="31.50" cy="62.00" r="1.00" fill="#1616f0"/><circle cx="40.50" cy="10.50" r="2.00" fill="#1616f0"/><circle cx="35.00" cy="14.50" r="1.50" fill="#1616f0"/><circle cx="35.00" cy="16.50" r="1.20" fill="#1616f0"/><circle cx="26.00" cy="22.00" r="1.00" fill="#1616f0"/><circle cx="33.00" cy="29.00" r="1.00" fill="#1616f0"/><circle cx="38.00" cy="33.00" r="1.00" fill="#1616f0"/><circle cx="58.50" cy="14.50" r="1.20" fill="#1616f0"/><circle cx="65.00" cy="16.50" r="1.00" fill="#1616f0"/><circle cx="73.00" cy="22.00" r="2.50" fill="#1616f0"/><circle cx="71.00" cy="32.00" r="2.50" fill="#1616f0"/><circle cx="69.50" cy="36.00" r="1.20" fill="#1616f0"/><circle cx="57.50" cy="4.00" r="1.50" fill="#1616f0"/><circle cx="73.00" cy="1.00" r="1.00" fill="#1616f0"/><circle cx="24.00" cy="42.00" r="2.00" fill="#1616f0"/><circle cx="19.00" cy="44.00" r="1.50" fill="#1616f0"/><circle cx="26.00" cy="39.00" r="1.50" fill="#1616f0"/><circle cx="31.00" cy="46.00" r="2.00" fill="#1616f0"/><circle cx="29.53" cy="48.51" r="0.88" fill="#1616f0"/><circle cx="29.33" cy="34.71" r="0.85" fill="#1616f0"/><circle cx="15.56" cy="50.82" r="0.66" fill="#1616f0"/><circle cx="20.50" cy="43.77" r="0.95" fill="#1616f0"/><circle cx="25.95" cy="36.46" r="0.88" fill="#1616f0"/><circle cx="25.57" cy="42.02" r="0.59" fill="#1616f0"/><circle cx="17.45" cy="45.96" r="1.04" fill="#1616f0"/><circle cx="25.24" cy="53.52" r="0.51" fill="#1616f0"/><circle cx="22.26" cy="45.00" r="0.71" fill="#1616f0"/><circle cx="17.08" cy="36.65" r="0.62" fill="#1616f0"/><circle cx="20.81" cy="42.68" r="1.06" fill="#1616f0"/><circle cx="25.59" cy="44.90" r="0.88" fill="#1616f0"/><circle cx="32.61" cy="42.83" r="0.84" fill="#1616f0"/><circle cx="20.04" cy="35.13" r="1.06" fill="#1616f0"/><circle cx="24.12" cy="59.30" r="0.53" fill="#1616f0"/><circle cx="20.33" cy="45.28" r="0.54" fill="#1616f0"/><circle cx="31.57" cy="42.78" r="1.06" fill="#1616f0"/><circle cx="26.56" cy="52.40" r="0.80" fill="#1616f0"/><circle cx="25.44" cy="37.43" r="0.69" fill="#1616f0"/><circle cx="23.85" cy="41.12" r="1.01" fill="#1616f0"/><circle cx="14.36" cy="44.85" r="0.77" fill="#1616f0"/><circle cx="27.44" cy="45.57" r="0.52" fill="#1616f0"/><circle cx="23.98" cy="29.67" r="1.01" fill="#1616f0"/><circle cx="23.24" cy="52.11" r="0.76" fill="#1616f0"/><circle cx="19.34" cy="41.09" r="0.89" fill="#1616f0"/></g></g><g id="Mk1"><g filter="url(#bl2)"><circle cx="31" cy="29" r="5" fill="#c800c8" fill-opacity="0.2"/></g><g filter="url(#bl)"><circle cx="32.00" cy="29.00" r="1.60" fill="#ff1aff"/><circle cx="34.50" cy="27.50" r="1.20" fill="#ff1aff"/><circle cx="36.00" cy="31.00" r="1.04" fill="#ff1aff"/><circle cx="27.00" cy="28.00" r="0.80" fill="#ff1aff"/><circle cx="26.50" cy="31.50" r="1.20" fill="#ff1aff"/><circle cx="30.00" cy="25.50" r="0.80" fill="#ff1aff"/><circle cx="31.00" cy="33.50" r="0.80" fill="#ff1aff"/><circle cx="30.00" cy="37.50" r="0.64" fill="#ff1aff"/><circle cx="22.00" cy="41.50" r="1.04" fill="#ff1aff"/><circle cx="30.00" cy="42.00" r="0.96" fill="#ff1aff"/><circle cx="40.50" cy="10.50" r="0.96" fill="#ff1aff"/><circle cx="35.00" cy="15.00" r="0.64" fill="#ff1aff"/><circle cx="73.50" cy="23.00" r="1.36" fill="#ff1aff"/><circle cx="26.00" cy="51.00" r="0.64" fill="#ff1aff"/><circle cx="29.00" cy="30.00" r="0.96" fill="#ff1aff"/><circle cx="33.00" cy="24.00" r="0.80" fill="#ff1aff"/></g></g><g id="Gk1"><g filter="url(#bl)"><circle cx="31.50" cy="23.00" r="1.80" fill="#1edc1e"/><circle cx="30.00" cy="20.50" r="0.90" fill="#1edc1e"/><circle cx="34.50" cy="21.50" r="0.90" fill="#1edc1e"/><circle cx="27.00" cy="26.00" r="0.90" fill="#1edc1e"/><circle cx="33.50" cy="26.00" r="1.08" fill="#1edc1e"/><circle cx="34.50" cy="28.50" r="1.17" fill="#1edc1e"/><circle cx="35.50" cy="31.00" r="1.17" fill="#1edc1e"/><circle cx="27.00" cy="31.50" r="1.35" fill="#1edc1e"/><circle cx="31.00" cy="32.00" r="1.17" fill="#1edc1e"/><circle cx="30.50" cy="35.50" r="0.90" fill="#1edc1e"/><circle cx="30.30" cy="37.50" r="0.72" fill="#1edc1e"/><circle cx="25.00" cy="38.50" r="1.35" fill="#1edc1e"/><circle cx="22.00" cy="41.50" r="0.90" fill="#1edc1e"/><circle cx="29.50" cy="42.00" r="0.72" fill="#1edc1e"/><circle cx="39.00" cy="24.00" r="1.08" fill="#1edc1e"/><circle cx="40.50" cy="10.50" r="1.08" fill="#1edc1e"/><circle cx="35.50" cy="14.50" r="0.72" fill="#1edc1e"/><circle cx="73.00" cy="23.00" r="1.08" fill="#1edc1e"/><circle cx="68.00" cy="42.00" r="1.08" fill="#1edc1e"/><circle cx="70.00" cy="44.50" r="0.72" fill="#1edc1e"/><circle cx="1.50" cy="7.50" r="0.63" fill="#1edc1e"/></g></g><g id="Ok1"><path d="M43.50,-1.00 C43.37,-0.83 43.67,-1.28 42.70,0.00 C41.73,1.28 39.45,4.67 37.70,6.70 C35.95,8.73 34.42,10.08 32.20,12.20 C29.98,14.32 27.00,17.55 24.40,19.40 C21.80,21.25 19.37,22.00 16.60,23.30 C13.83,24.60 10.20,25.90 7.80,27.20 C5.40,28.50 3.03,30.00 2.20,31.10 C1.37,32.20 1.87,32.60 2.80,33.80 C3.73,35.00 6.23,36.17 7.80,38.30 C9.37,40.43 11.18,43.37 12.20,46.60 C13.22,49.83 13.90,54.18 13.90,57.70 C13.90,61.22 12.77,64.65 12.20,67.70 C11.63,70.75 10.82,74.45 10.50,76.00 C10.18,77.55 10.33,76.83 10.30,77.00" fill="none" stroke="#ececec" stroke-width="1.45"/><path d="M59.80,-1.00 C59.73,-0.83 59.93,-1.28 59.40,0.00 C58.87,1.28 56.98,4.30 56.60,6.70 C56.22,9.10 56.18,11.63 57.10,14.40 C58.02,17.17 60.15,20.98 62.10,23.30 C64.05,25.62 66.48,27.23 68.80,28.30 C71.12,29.37 74.63,29.45 76.00,29.70 C77.37,29.95 76.83,29.78 77.00,29.80" fill="none" stroke="#ececec" stroke-width="1.45"/><path d="M27.70,77.00 C27.80,76.83 27.37,77.73 28.30,76.00 C29.23,74.27 31.35,69.83 33.30,66.60 C35.25,63.37 37.42,59.57 40.00,56.60 C42.58,53.63 45.67,50.65 48.80,48.80 C51.93,46.95 55.47,46.15 58.80,45.50 C62.13,44.85 65.93,44.82 68.80,44.90 C71.67,44.98 74.63,45.78 76.00,46.00 C77.37,46.22 76.83,46.17 77.00,46.20" fill="none" stroke="#ececec" stroke-width="1.45"/></g><g id="Bk2"><circle cx="64" cy="55" r="3.9" fill="#1c1cc4" filter="url(#bl)"/><g filter="url(#bl2)"><circle cx="23" cy="29" r="7" fill="#0a0ad2" fill-opacity="0.45"/><circle cx="28" cy="36" r="4" fill="#0a0ad2" fill-opacity="0.4"/><circle cx="52" cy="38" r="5" fill="#0a0ad2" fill-opacity="0.22"/></g><g filter="url(#bl)"><circle cx="28.50" cy="38.00" r="3.00" fill="#1616c8"/><circle cx="25.00" cy="33.00" r="2.50" fill="#1616c8"/><circle cx="18.50" cy="28.00" r="2.00" fill="#1616c8"/><circle cx="33.00" cy="25.50" r="2.00" fill="#1616c8"/><circle cx="29.00" cy="29.00" r="2.00" fill="#1616c8"/><circle cx="16.00" cy="22.00" r="1.50" fill="#1616c8"/><circle cx="11.00" cy="18.50" r="1.50" fill="#1616c8"/><circle cx="14.50" cy="10.50" r="1.00" fill="#1616c8"/><circle cx="28.50" cy="22.50" r="1.50" fill="#1616c8"/><circle cx="26.50" cy="42.50" r="1.20" fill="#1616c8"/><circle cx="30.00" cy="46.50" r="1.00" fill="#1616c8"/><circle cx="48.50" cy="33.00" r="1.20" fill="#1616c8"/><circle cx="54.50" cy="36.00" r="1.30" fill="#1616c8"/><circle cx="59.50" cy="38.00" r="1.20" fill="#1616c8"/><circle cx="48.00" cy="42.50" r="1.00" fill="#1616c8"/><circle cx="52.00" cy="45.00" r="1.00" fill="#1616c8"/><circle cx="44.50" cy="51.50" r="1.00" fill="#1616c8"/><circle cx="22.00" cy="35.00" r="2.00" fill="#1616c8"/><circle cx="24.00" cy="27.00" r="1.80" fill="#1616c8"/><circle cx="20.00" cy="22.00" r="1.50" fill="#1616c8"/><circle cx="31.00" cy="34.00" r="1.80" fill="#1616c8"/><circle cx="13.00" cy="23.00" r="1.30" fill="#1616c8"/><circle cx="33.00" cy="40.00" r="1.30" fill="#1616c8"/><circle cx="30.99" cy="24.72" r="1.02" fill="#1616c8"/><circle cx="25.55" cy="35.52" r="0.58" fill="#1616c8"/><circle cx="23.67" cy="38.82" r="0.89" fill="#1616c8"/><circle cx="31.10" cy="28.51" r="0.91" fill="#1616c8"/><circle cx="21.94" cy="32.99" r="0.98" fill="#1616c8"/><circle cx="27.41" cy="29.43" r="0.74" fill="#1616c8"/><circle cx="21.76" cy="25.32" r="0.60" fill="#1616c8"/><circle cx="18.49" cy="31.51" r="0.68" fill="#1616c8"/><circle cx="27.65" cy="14.99" r="0.94" fill="#1616c8"/><circle cx="41.22" cy="28.64" r="0.75" fill="#1616c8"/><circle cx="24.72" cy="29.18" r="0.83" fill="#1616c8"/><circle cx="26.91" cy="26.15" r="0.87" fill="#1616c8"/><circle cx="19.51" cy="27.87" r="0.67" fill="#1616c8"/><circle cx="27.43" cy="26.27" r="0.79" fill="#1616c8"/><circle cx="41.25" cy="34.01" r="0.73" fill="#1616c8"/><circle cx="47.15" cy="62.67" r="0.60" fill="#1616c8"/><circle cx="16.88" cy="30.74" r="1.01" fill="#1616c8"/><circle cx="13.91" cy="16.58" r="0.74" fill="#1616c8"/><circle cx="20.95" cy="30.74" r="0.65" fill="#1616c8"/><circle cx="24.10" cy="25.77" r="1.00" fill="#1616c8"/><circle cx="15.80" cy="22.08" r="0.88" fill="#1616c8"/><circle cx="19.28" cy="20.68" r="0.76" fill="#1616c8"/><circle cx="17.19" cy="21.70" r="0.64" fill="#1616c8"/><circle cx="59.28" cy="34.83" r="0.61" fill="#1616c8"/><circle cx="27.28" cy="30.61" r="0.76" fill="#1616c8"/><circle cx="21.83" cy="25.49" r="0.94" fill="#1616c8"/><circle cx="25.78" cy="23.92" r="0.80" fill="#1616c8"/><circle cx="15.83" cy="19.98" r="0.80" fill="#1616c8"/><circle cx="28.94" cy="29.16" r="0.60" fill="#1616c8"/><circle cx="51.66" cy="68.05" r="0.60" fill="#1616c8"/></g></g><g id="Mk2"><g filter="url(#bl2)"><circle cx="41" cy="35" r="7" fill="#c800c8" fill-opacity="0.2"/></g><g filter="url(#bl)"><circle cx="32.00" cy="32.00" r="1.20" fill="#ff1aff"/><circle cx="37.00" cy="29.50" r="1.20" fill="#ff1aff"/><circle cx="40.50" cy="29.50" r="0.96" fill="#ff1aff"/><circle cx="46.50" cy="31.50" r="1.36" fill="#ff1aff"/><circle cx="40.50" cy="35.50" r="1.60" fill="#ff1aff"/><circle cx="44.50" cy="36.50" r="1.20" fill="#ff1aff"/><circle cx="43.50" cy="39.50" r="1.36" fill="#ff1aff"/><circle cx="45.00" cy="40.50" r="1.20" fill="#ff1aff"/><circle cx="29.00" cy="35.50" r="0.80" fill="#ff1aff"/><circle cx="34.00" cy="33.00" r="0.80" fill="#ff1aff"/><circle cx="56.50" cy="37.50" r="1.36" fill="#ff1aff"/><circle cx="44.50" cy="47.00" r="0.80" fill="#ff1aff"/><circle cx="32.50" cy="49.00" r="0.96" fill="#ff1aff"/><circle cx="21.00" cy="21.00" r="0.64" fill="#ff1aff"/><circle cx="27.00" cy="27.50" r="0.64" fill="#ff1aff"/><circle cx="38.00" cy="33.00" r="1.04" fill="#ff1aff"/><circle cx="35.00" cy="28.00" r="0.80" fill="#ff1aff"/><circle cx="42.00" cy="32.00" r="0.96" fill="#ff1aff"/></g></g><g id="Gk2"><g filter="url(#bl)"><circle cx="14.50" cy="9.50" r="1.17" fill="#1edc1e"/><circle cx="11.00" cy="16.50" r="0.90" fill="#1edc1e"/><circle cx="11.50" cy="19.50" r="0.72" fill="#1edc1e"/><circle cx="21.00" cy="18.00" r="1.08" fill="#1edc1e"/><circle cx="24.50" cy="22.50" r="1.08" fill="#1edc1e"/><circle cx="24.00" cy="15.50" r="0.72" fill="#1edc1e"/><circle cx="31.50" cy="22.50" r="0.72" fill="#1edc1e"/><circle cx="27.00" cy="34.50" r="1.98" fill="#1edc1e"/><circle cx="33.00" cy="30.00" r="0.90" fill="#1edc1e"/><circle cx="37.00" cy="30.00" r="1.17" fill="#1edc1e"/><circle cx="40.50" cy="30.00" r="1.53" fill="#1edc1e"/><circle cx="35.50" cy="34.50" r="1.08" fill="#1edc1e"/><circle cx="40.50" cy="35.00" r="0.90" fill="#1edc1e"/><circle cx="47.00" cy="34.50" r="1.08" fill="#1edc1e"/><circle cx="43.00" cy="40.00" r="1.17" fill="#1edc1e"/><circle cx="45.00" cy="40.50" r="1.53" fill="#1edc1e"/><circle cx="53.00" cy="34.50" r="1.08" fill="#1edc1e"/><circle cx="54.50" cy="37.00" r="1.08" fill="#1edc1e"/><circle cx="31.50" cy="47.00" r="1.80" fill="#1edc1e"/><circle cx="52.00" cy="51.50" r="1.08" fill="#1edc1e"/><circle cx="64.50" cy="49.50" r="0.90" fill="#1edc1e"/><circle cx="13.70" cy="63.50" r="1.08" fill="#1edc1e"/><circle cx="5.50" cy="12.50" r="0.72" fill="#1edc1e"/><circle cx="65.50" cy="75.50" r="0.90" fill="#1edc1e"/></g></g><g id="Ok2"><path d="M13.00,-1.00 C13.05,-0.83 12.70,-0.72 13.30,0.00 C13.90,0.72 14.57,1.82 16.60,3.30 C18.63,4.78 22.72,6.68 25.50,8.90 C28.28,11.12 30.72,14.20 33.30,16.60 C35.88,19.00 38.22,21.35 41.00,23.30 C43.78,25.25 46.83,26.63 50.00,28.30 C53.17,29.97 57.42,31.18 60.00,33.30 C62.58,35.42 63.67,38.78 65.50,41.00 C67.33,43.22 69.25,45.20 71.00,46.60 C72.75,48.00 75.00,48.87 76.00,49.40 C77.00,49.93 76.83,49.73 77.00,49.80" fill="none" stroke="#ececec" stroke-width="1.45"/><path d="M-1.00,5.80 C-0.83,5.85 -0.72,5.58 0.00,6.10 C0.72,6.62 2.38,7.15 3.30,8.90 C4.22,10.65 4.75,14.02 5.50,16.60 C6.25,19.18 6.50,22.37 7.80,24.40 C9.10,26.43 11.45,27.13 13.30,28.80 C15.15,30.47 16.87,31.98 18.90,34.40 C20.93,36.82 23.10,40.35 25.50,43.30 C27.90,46.25 30.88,49.32 33.30,52.10 C35.72,54.88 37.78,57.40 40.00,60.00 C42.22,62.60 44.02,65.03 46.60,67.70 C49.18,70.37 53.85,74.45 55.50,76.00 C57.15,77.55 56.33,76.83 56.50,77.00" fill="none" stroke="#ececec" stroke-width="1.45"/></g><g id="Bk3"><g filter="url(#bl2)"><circle cx="54" cy="29" r="8" fill="#0a0ad2" fill-opacity="0.55"/><circle cx="44" cy="23" r="6" fill="#0a0ad2" fill-opacity="0.45"/><circle cx="28" cy="24" r="7" fill="#0a0ad2" fill-opacity="0.4"/><circle cx="60" cy="45" r="5" fill="#0a0ad2" fill-opacity="0.35"/><circle cx="15" cy="40" r="6" fill="#0a0ad2" fill-opacity="0.25"/><circle cx="40" cy="55" r="5" fill="#0a0ad2" fill-opacity="0.3"/></g><g filter="url(#bl)"><circle cx="19.00" cy="21.00" r="1.20" fill="#1818e0"/><circle cx="26.50" cy="21.00" r="1.70" fill="#1818e0"/><circle cx="24.00" cy="24.00" r="1.70" fill="#1818e0"/><circle cx="22.00" cy="27.00" r="1.20" fill="#1818e0"/><circle cx="28.00" cy="26.00" r="1.20" fill="#1818e0"/><circle cx="27.50" cy="29.50" r="1.20" fill="#1818e0"/><circle cx="37.00" cy="21.50" r="1.50" fill="#1818e0"/><circle cx="41.00" cy="22.50" r="1.70" fill="#1818e0"/><circle cx="44.50" cy="23.50" r="1.50" fill="#1818e0"/><circle cx="48.00" cy="25.00" r="1.20" fill="#1818e0"/><circle cx="52.00" cy="27.50" r="2.50" fill="#1818e0"/><circle cx="56.00" cy="30.00" r="3.00" fill="#1818e0"/><circle cx="58.00" cy="33.00" r="2.20" fill="#1818e0"/><circle cx="63.00" cy="32.00" r="1.50" fill="#1818e0"/><circle cx="69.50" cy="32.00" r="1.20" fill="#1818e0"/><circle cx="18.50" cy="34.50" r="1.70" fill="#1818e0"/><circle cx="9.00" cy="27.50" r="1.00" fill="#1818e0"/><circle cx="3.50" cy="33.50" r="1.00" fill="#1818e0"/><circle cx="9.00" cy="40.00" r="1.00" fill="#1818e0"/><circle cx="17.00" cy="47.50" r="2.00" fill="#1818e0"/><circle cx="14.00" cy="38.50" r="0.80" fill="#1818e0"/><circle cx="58.50" cy="43.50" r="1.50" fill="#1818e0"/><circle cx="63.00" cy="44.50" r="1.20" fill="#1818e0"/><circle cx="57.50" cy="47.00" r="1.20" fill="#1818e0"/><circle cx="70.00" cy="45.50" r="1.00" fill="#1818e0"/><circle cx="74.50" cy="41.50" r="1.00" fill="#1818e0"/><circle cx="42.00" cy="55.50" r="2.00" fill="#1818e0"/><circle cx="33.50" cy="55.00" r="1.20" fill="#1818e0"/><circle cx="27.50" cy="53.50" r="1.20" fill="#1818e0"/><circle cx="51.00" cy="54.00" r="1.20" fill="#1818e0"/><circle cx="62.00" cy="56.00" r="0.80" fill="#1818e0"/><circle cx="54.00" cy="29.00" r="2.50" fill="#1818e0"/><circle cx="50.00" cy="26.00" r="2.00" fill="#1818e0"/><circle cx="46.00" cy="25.00" r="1.50" fill="#1818e0"/><circle cx="60.00" cy="31.00" r="2.00" fill="#1818e0"/><circle cx="34.67" cy="29.13" r="0.60" fill="#1818e0"/><circle cx="21.72" cy="29.19" r="0.57" fill="#1818e0"/><circle cx="20.86" cy="20.62" r="0.74" fill="#1818e0"/><circle cx="46.66" cy="34.61" r="0.52" fill="#1818e0"/><circle cx="16.29" cy="33.86" r="0.48" fill="#1818e0"/><circle cx="30.20" cy="30.88" r="0.75" fill="#1818e0"/><circle cx="24.44" cy="32.45" r="0.80" fill="#1818e0"/><circle cx="32.55" cy="37.03" r="0.66" fill="#1818e0"/><circle cx="7.78" cy="36.08" r="0.73" fill="#1818e0"/><circle cx="35.70" cy="30.21" r="0.79" fill="#1818e0"/></g></g><g id="Mk3"><g filter="url(#bl2)"><circle cx="38" cy="28" r="13" fill="#c800c8" fill-opacity="0.1"/></g><g filter="url(#bl)"><circle cx="38.00" cy="19.00" r="1.27" fill="#ff1aff"/><circle cx="36.00" cy="22.50" r="0.98" fill="#ff1aff"/><circle cx="43.50" cy="21.00" r="0.90" fill="#ff1aff"/><circle cx="27.00" cy="21.00" r="0.75" fill="#ff1aff"/><circle cx="20.50" cy="26.00" r="0.98" fill="#ff1aff"/><circle cx="20.00" cy="31.00" r="1.27" fill="#ff1aff"/><circle cx="24.00" cy="28.50" r="0.75" fill="#ff1aff"/><circle cx="30.50" cy="29.50" r="0.90" fill="#ff1aff"/><circle cx="33.50" cy="28.50" r="1.12" fill="#ff1aff"/><circle cx="35.50" cy="26.00" r="0.90" fill="#ff1aff"/><circle cx="41.00" cy="28.50" r="0.98" fill="#ff1aff"/><circle cx="44.50" cy="30.00" r="1.12" fill="#ff1aff"/><circle cx="47.50" cy="30.00" r="0.90" fill="#ff1aff"/><circle cx="48.50" cy="26.00" r="0.90" fill="#ff1aff"/><circle cx="53.00" cy="26.50" r="0.75" fill="#ff1aff"/><circle cx="59.50" cy="32.50" r="0.98" fill="#ff1aff"/><circle cx="42.50" cy="37.50" r="0.98" fill="#ff1aff"/><circle cx="19.00" cy="39.00" r="0.60" fill="#ff1aff"/><circle cx="37.50" cy="55.50" r="0.98" fill="#ff1aff"/><circle cx="42.00" cy="55.00" r="0.60" fill="#ff1aff"/><circle cx="16.00" cy="31.00" r="0.75" fill="#ff1aff"/><circle cx="2.50" cy="28.00" r="0.60" fill="#ff1aff"/><circle cx="61.50" cy="52.00" r="0.60" fill="#ff1aff"/><circle cx="19.38" cy="32.35" r="0.27" fill="#ff1aff"/><circle cx="56.17" cy="38.37" r="0.27" fill="#ff1aff"/><circle cx="42.22" cy="37.98" r="0.29" fill="#ff1aff"/><circle cx="37.68" cy="14.24" r="0.28" fill="#ff1aff"/><circle cx="20.68" cy="15.40" r="0.26" fill="#ff1aff"/><circle cx="46.73" cy="43.78" r="0.26" fill="#ff1aff"/><circle cx="51.01" cy="30.21" r="0.43" fill="#ff1aff"/><circle cx="25.02" cy="14.10" r="0.44" fill="#ff1aff"/><circle cx="29.17" cy="31.84" r="0.26" fill="#ff1aff"/><circle cx="35.57" cy="33.49" r="0.44" fill="#ff1aff"/><circle cx="47.31" cy="27.09" r="0.31" fill="#ff1aff"/><circle cx="62.47" cy="32.87" r="0.24" fill="#ff1aff"/><circle cx="16.10" cy="37.66" r="0.27" fill="#ff1aff"/><circle cx="40.77" cy="27.10" r="0.32" fill="#ff1aff"/><circle cx="67.07" cy="33.17" r="0.28" fill="#ff1aff"/><circle cx="68.29" cy="25.77" r="0.29" fill="#ff1aff"/><circle cx="46.89" cy="19.93" r="0.39" fill="#ff1aff"/><circle cx="37.80" cy="28.51" r="0.40" fill="#ff1aff"/><circle cx="39.61" cy="34.78" r="0.44" fill="#ff1aff"/><circle cx="29.38" cy="19.08" r="0.32" fill="#ff1aff"/><circle cx="46.01" cy="26.33" r="0.41" fill="#ff1aff"/><circle cx="62.53" cy="58.73" r="0.36" fill="#ff1aff"/><circle cx="32.38" cy="33.15" r="0.40" fill="#ff1aff"/><circle cx="45.61" cy="37.49" r="0.28" fill="#ff1aff"/><circle cx="55.36" cy="29.61" r="0.30" fill="#ff1aff"/></g></g><g id="Gk3"><g filter="url(#bl2)"><circle cx="10" cy="70" r="14" fill="#00b400" fill-opacity="0.05"/></g><g filter="url(#bl)"><circle cx="18.50" cy="18.00" r="1.35" fill="#1edc1e"/><circle cx="19.50" cy="23.50" r="0.90" fill="#1edc1e"/><circle cx="20.00" cy="26.00" r="0.90" fill="#1edc1e"/><circle cx="1.50" cy="20.00" r="0.90" fill="#1edc1e"/><circle cx="27.00" cy="20.50" r="0.72" fill="#1edc1e"/><circle cx="31.50" cy="24.00" r="0.90" fill="#1edc1e"/><circle cx="44.50" cy="21.00" r="1.08" fill="#1edc1e"/><circle cx="48.00" cy="26.50" r="1.17" fill="#1edc1e"/><circle cx="50.50" cy="28.50" r="1.53" fill="#1edc1e"/><circle cx="55.00" cy="29.50" r="1.35" fill="#1edc1e"/><circle cx="53.00" cy="31.50" r="1.08" fill="#1edc1e"/><circle cx="58.00" cy="33.00" r="0.90" fill="#1edc1e"/><circle cx="61.50" cy="35.00" r="1.53" fill="#1edc1e"/><circle cx="65.50" cy="31.50" r="0.90" fill="#1edc1e"/><circle cx="69.70" cy="31.50" r="1.17" fill="#1edc1e"/><circle cx="74.00" cy="33.50" r="0.90" fill="#1edc1e"/><circle cx="14.00" cy="37.00" r="0.90" fill="#1edc1e"/><circle cx="14.00" cy="39.50" r="0.90" fill="#1edc1e"/><circle cx="3.50" cy="41.00" r="0.72" fill="#1edc1e"/><circle cx="17.80" cy="46.00" r="1.35" fill="#1edc1e"/><circle cx="59.00" cy="41.00" r="1.08" fill="#1edc1e"/><circle cx="68.00" cy="43.00" r="1.17" fill="#1edc1e"/><circle cx="75.00" cy="41.00" r="0.90" fill="#1edc1e"/><circle cx="41.50" cy="56.00" r="1.35" fill="#1edc1e"/><circle cx="50.50" cy="57.50" r="0.72" fill="#1edc1e"/><circle cx="38.00" cy="38.50" r="0.63" fill="#1edc1e"/><circle cx="62.50" cy="56.00" r="0.72" fill="#1edc1e"/></g></g><g id="Ok3"><path d="M-1.00,16.10 C-0.83,16.10 -1.65,16.20 0.00,16.10 C1.65,16.00 5.75,16.05 8.90,15.50 C12.05,14.95 16.13,13.82 18.90,12.80 C21.67,11.78 23.65,10.15 25.50,9.40 C27.35,8.65 28.15,8.02 30.00,8.30 C31.85,8.58 34.20,9.80 36.60,11.10 C39.00,12.40 41.82,14.62 44.40,16.10 C46.98,17.58 49.15,18.90 52.10,20.00 C55.05,21.10 59.13,21.70 62.10,22.70 C65.07,23.70 67.58,25.07 69.90,26.00 C72.22,26.93 74.82,27.87 76.00,28.30 C77.18,28.73 76.83,28.55 77.00,28.60" fill="none" stroke="#ececec" stroke-width="1.45"/><path d="M1.70,46.60 C3.27,47.15 8.05,48.60 11.10,49.90 C14.15,51.20 17.23,52.73 20.00,54.40 C22.77,56.07 25.30,58.15 27.70,59.90 C30.10,61.65 32.35,63.97 34.40,64.90 C36.45,65.83 37.60,65.68 40.00,65.50 C42.40,65.32 45.48,64.63 48.80,63.80 C52.12,62.97 56.57,61.62 59.90,60.50 C63.23,59.38 66.12,58.12 68.80,57.10 C71.48,56.08 74.63,54.92 76.00,54.40 C77.37,53.88 76.83,54.07 77.00,54.00" fill="none" stroke="#ececec" stroke-width="1.45"/></g></defs>
<svg x="25" y="49" width="76" height="76" viewBox="0 0 76 76" preserveAspectRatio="none" overflow="hidden"><rect x="0" y="0" width="76" height="76" fill="#000"/><g style="isolation:isolate"><use href="#Bc1"/><use href="#Mc1" style="mix-blend-mode:screen"/><use href="#Gc1" style="mix-blend-mode:screen"/></g><use href="#Oc1"/></svg>
<svg x="105.8" y="49" width="75.5" height="76" viewBox="0 0 76 76" preserveAspectRatio="none" overflow="hidden"><rect x="0" y="0" width="76" height="76" fill="#000"/><use href="#Gc1"/><use href="#Oc1"/></svg>
<svg x="185.8" y="49" width="75.5" height="76" viewBox="0 0 76 76" preserveAspectRatio="none" overflow="hidden"><rect x="0" y="0" width="76" height="76" fill="#000"/><use href="#Mc1"/><use href="#Oc1"/></svg>
<svg x="265" y="49" width="75.6" height="76" viewBox="0 0 76 76" preserveAspectRatio="none" overflow="hidden"><rect x="0" y="0" width="76" height="76" fill="#000"/><use href="#Bc1"/><use href="#Oc1"/></svg>
<svg x="25" y="130" width="76" height="75.6" viewBox="0 0 76 76" preserveAspectRatio="none" overflow="hidden"><rect x="0" y="0" width="76" height="76" fill="#000"/><g style="isolation:isolate"><use href="#Bc2"/><use href="#Mc2" style="mix-blend-mode:screen"/><use href="#Gc2" style="mix-blend-mode:screen"/></g><use href="#Oc2"/></svg>
<svg x="105.8" y="130" width="75.5" height="75.6" viewBox="0 0 76 76" preserveAspectRatio="none" overflow="hidden"><rect x="0" y="0" width="76" height="76" fill="#000"/><use href="#Gc2"/><use href="#Oc2"/></svg>
<svg x="185.8" y="130" width="75.5" height="75.6" viewBox="0 0 76 76" preserveAspectRatio="none" overflow="hidden"><rect x="0" y="0" width="76" height="76" fill="#000"/><use href="#Mc2"/><use href="#Oc2"/></svg>
<svg x="265" y="130" width="75.6" height="75.6" viewBox="0 0 76 76" preserveAspectRatio="none" overflow="hidden"><rect x="0" y="0" width="76" height="76" fill="#000"/><use href="#Bc2"/><use href="#Oc2"/></svg>
<svg x="25" y="212" width="76" height="76" viewBox="0 0 76 76" preserveAspectRatio="none" overflow="hidden"><rect x="0" y="0" width="76" height="76" fill="#000"/><g style="isolation:isolate"><use href="#Bc3"/><use href="#Mc3" style="mix-blend-mode:screen"/><use href="#Gc3" style="mix-blend-mode:screen"/></g><use href="#Oc3"/><text x="61.6" y="68.4" text-anchor="middle" fill="#e6e6e6" style="font-size:7px">10 µm</text><rect x="54" y="69.4" width="15" height="1.5" fill="#e6e6e6"/></svg>
<svg x="105.8" y="212" width="75.5" height="76" viewBox="0 0 76 76" preserveAspectRatio="none" overflow="hidden"><rect x="0" y="0" width="76" height="76" fill="#000"/><use href="#Gc3"/><use href="#Oc3"/></svg>
<svg x="185.8" y="212" width="75.5" height="76" viewBox="0 0 76 76" preserveAspectRatio="none" overflow="hidden"><rect x="0" y="0" width="76" height="76" fill="#000"/><use href="#Mc3"/><use href="#Oc3"/></svg>
<svg x="265" y="212" width="75.6" height="76" viewBox="0 0 76 76" preserveAspectRatio="none" overflow="hidden"><rect x="0" y="0" width="76" height="76" fill="#000"/><use href="#Bc3"/><use href="#Oc3"/></svg>
<svg x="361" y="49" width="76" height="76" viewBox="0 0 76 76" preserveAspectRatio="none" overflow="hidden"><rect x="0" y="0" width="76" height="76" fill="#000"/><g style="isolation:isolate"><use href="#Bk1"/><use href="#Mk1" style="mix-blend-mode:screen"/><use href="#Gk1" style="mix-blend-mode:screen"/></g><use href="#Ok1"/></svg>
<svg x="441" y="49" width="76" height="76" viewBox="0 0 76 76" preserveAspectRatio="none" overflow="hidden"><rect x="0" y="0" width="76" height="76" fill="#000"/><use href="#Gk1"/><use href="#Ok1"/></svg>
<svg x="521" y="49" width="76" height="76" viewBox="0 0 76 76" preserveAspectRatio="none" overflow="hidden"><rect x="0" y="0" width="76" height="76" fill="#000"/><use href="#Mk1"/><use href="#Ok1"/></svg>
<svg x="601" y="49" width="75.3" height="76" viewBox="0 0 76 76" preserveAspectRatio="none" overflow="hidden"><rect x="0" y="0" width="76" height="76" fill="#000"/><use href="#Bk1"/><use href="#Ok1"/></svg>
<svg x="361" y="130" width="76" height="75.8" viewBox="0 0 76 76" preserveAspectRatio="none" overflow="hidden"><rect x="0" y="0" width="76" height="76" fill="#000"/><g style="isolation:isolate"><use href="#Bk2"/><use href="#Mk2" style="mix-blend-mode:screen"/><use href="#Gk2" style="mix-blend-mode:screen"/></g><use href="#Ok2"/></svg>
<svg x="441" y="130" width="76" height="75.8" viewBox="0 0 76 76" preserveAspectRatio="none" overflow="hidden"><rect x="0" y="0" width="76" height="76" fill="#000"/><use href="#Gk2"/><use href="#Ok2"/></svg>
<svg x="521" y="130" width="76" height="75.8" viewBox="0 0 76 76" preserveAspectRatio="none" overflow="hidden"><rect x="0" y="0" width="76" height="76" fill="#000"/><use href="#Mk2"/><use href="#Ok2"/></svg>
<svg x="601" y="130" width="75.3" height="75.8" viewBox="0 0 76 76" preserveAspectRatio="none" overflow="hidden"><rect x="0" y="0" width="76" height="76" fill="#000"/><use href="#Bk2"/><use href="#Ok2"/></svg>
<svg x="361" y="211" width="76" height="76" viewBox="0 0 76 76" preserveAspectRatio="none" overflow="hidden"><rect x="0" y="0" width="76" height="76" fill="#000"/><g style="isolation:isolate"><use href="#Bk3"/><use href="#Mk3" style="mix-blend-mode:screen"/><use href="#Gk3" style="mix-blend-mode:screen"/></g><use href="#Ok3"/></svg>
<svg x="441" y="211" width="76" height="76" viewBox="0 0 76 76" preserveAspectRatio="none" overflow="hidden"><rect x="0" y="0" width="76" height="76" fill="#000"/><use href="#Gk3"/><use href="#Ok3"/></svg>
<svg x="521" y="211" width="76" height="76" viewBox="0 0 76 76" preserveAspectRatio="none" overflow="hidden"><rect x="0" y="0" width="76" height="76" fill="#000"/><use href="#Mk3"/><use href="#Ok3"/></svg>
<svg x="601" y="211" width="75.3" height="76" viewBox="0 0 76 76" preserveAspectRatio="none" overflow="hidden"><rect x="0" y="0" width="76" height="76" fill="#000"/><use href="#Bk3"/><use href="#Ok3"/></svg>
<text x="9.2" y="13" fill="#000" style="font-size:18px;">a</text>
<text x="182.2" y="13" text-anchor="middle" fill="#000" style="font-size:18px;">Ctl</text>
<line x1="52" y1="18.8" x2="308.4" y2="18.8" stroke="#231f20" stroke-width="2.4"/>
<text x="517.8" y="13" text-anchor="middle" fill="#000" style="font-size:18px;">M7KD</text>
<line x1="389" y1="18.8" x2="645.5" y2="18.8" stroke="#231f20" stroke-width="2.4"/>
<text x="63.5" y="44.6" text-anchor="middle" fill="#000" style="font-size:14px;">Composite</text>
<text x="142.7" y="44.6" text-anchor="middle" fill="#1aa31a" style="font-size:14px;">VSV-Lassa</text>
<text x="222.5" y="44.6" text-anchor="middle" fill="#ff1aff" style="font-size:14px;">EEA1</text>
<text x="298.4" y="44.6" text-anchor="middle" fill="#1a1aff" style="font-size:14px;">NPC1</text>
<text x="398.9" y="44.6" text-anchor="middle" fill="#000" style="font-size:14px;">Composite</text>
<text x="477.5" y="44.6" text-anchor="middle" fill="#1aa31a" style="font-size:14px;">VSV-Lassa</text>
<text x="557.9" y="44.6" text-anchor="middle" fill="#ff1aff" style="font-size:14px;">EEA1</text>
<text x="633.5" y="44.6" text-anchor="middle" fill="#1a1aff" style="font-size:14px;">NPC1</text>
<text x="13.6" y="91.8" text-anchor="middle" fill="#000" style="font-size:15px;">30</text>
<text x="13.6" y="172.1" text-anchor="middle" fill="#000" style="font-size:15px;">45</text>
<text x="13.6" y="253.6" text-anchor="middle" fill="#000" style="font-size:15px;">60</text>
<text x="10" y="329.8" fill="#000" style="font-size:18px;">b</text>
<text x="129.75" y="329.8" text-anchor="middle" fill="#000" style="font-size:15.35px;">Total virus uptake</text>
<line x1="44.3" y1="362" x2="44.3" y2="513.9" stroke="#1a1a1a" stroke-width="1.6"/>
<line x1="38.3" y1="513.9" x2="212" y2="513.9" stroke="#1a1a1a" stroke-width="1.6"/>
<line x1="38.5" y1="483.44" x2="44.3" y2="483.44" stroke="#1a1a1a" stroke-width="1.4"/>
<text x="36.9" y="487.74" text-anchor="end" fill="#000" style="font-size:12px;">50</text>
<line x1="38.5" y1="452.97999999999996" x2="44.3" y2="452.97999999999996" stroke="#1a1a1a" stroke-width="1.4"/>
<text x="36.9" y="457.28" text-anchor="end" fill="#000" style="font-size:12px;">100</text>
<line x1="38.5" y1="422.52" x2="44.3" y2="422.52" stroke="#1a1a1a" stroke-width="1.4"/>
<text x="36.9" y="426.82" text-anchor="end" fill="#000" style="font-size:12px;">150</text>
<line x1="38.5" y1="392.06" x2="44.3" y2="392.06" stroke="#1a1a1a" stroke-width="1.4"/>
<text x="36.9" y="396.36" text-anchor="end" fill="#000" style="font-size:12px;">200</text>
<line x1="38.5" y1="361.6" x2="44.3" y2="361.6" stroke="#1a1a1a" stroke-width="1.4"/>
<text x="36.9" y="365.90000000000003" text-anchor="end" fill="#000" style="font-size:12px;">250</text>
<text x="12" y="430.5" text-anchor="middle" fill="#000" style="font-size:14px;" transform="rotate(-90 12 430.5)"># of viruses per cell</text>
<line x1="61.7" y1="513.9" x2="61.7" y2="520.1" stroke="#1a1a1a" stroke-width="1.4"/>
<line x1="88.4" y1="513.9" x2="88.4" y2="520.1" stroke="#1a1a1a" stroke-width="1.4"/>
<line x1="114.9" y1="513.9" x2="114.9" y2="520.1" stroke="#1a1a1a" stroke-width="1.4"/>
<line x1="141.2" y1="513.9" x2="141.2" y2="520.1" stroke="#1a1a1a" stroke-width="1.4"/>
<line x1="167.7" y1="513.9" x2="167.7" y2="520.1" stroke="#1a1a1a" stroke-width="1.4"/>
<line x1="193.8" y1="513.9" x2="193.8" y2="520.1" stroke="#1a1a1a" stroke-width="1.4"/>
<text x="60.800000000000004" y="530.7" text-anchor="middle" fill="#000" style="font-size:12px;" textLength="13.7" lengthAdjust="spacingAndGlyphs">Ctl</text>
<text x="87.4" y="530.7" text-anchor="middle" fill="#000" style="font-size:12px;" textLength="32.9" lengthAdjust="spacingAndGlyphs">M7KD</text>
<text x="114.0" y="530.7" text-anchor="middle" fill="#000" style="font-size:12px;" textLength="13.7" lengthAdjust="spacingAndGlyphs">Ctl</text>
<text x="140.2" y="530.7" text-anchor="middle" fill="#000" style="font-size:12px;" textLength="32.9" lengthAdjust="spacingAndGlyphs">M7KD</text>
<text x="166.79999999999998" y="530.7" text-anchor="middle" fill="#000" style="font-size:12px;" textLength="13.7" lengthAdjust="spacingAndGlyphs">Ctl</text>
<text x="192.8" y="530.7" text-anchor="middle" fill="#000" style="font-size:12px;" textLength="32.9" lengthAdjust="spacingAndGlyphs">M7KD</text>
<line x1="53.1" y1="538.2" x2="96.5" y2="538.2" stroke="#1a1a1a" stroke-width="1.4"/>
<text x="74.8" y="551.8" text-anchor="middle" fill="#000" style="font-size:14px;">30&#8217;</text>
<line x1="107.8" y1="538.2" x2="150.4" y2="538.2" stroke="#1a1a1a" stroke-width="1.4"/>
<text x="129.1" y="551.8" text-anchor="middle" fill="#000" style="font-size:14px;">45&#8217;</text>
<line x1="163" y1="538.2" x2="205.5" y2="538.2" stroke="#1a1a1a" stroke-width="1.4"/>
<text x="184.25" y="551.8" text-anchor="middle" fill="#000" style="font-size:14px;">60&#8217;</text>
<text x="54.4" y="357.0" fill="#808080" style="font-size:10px;font-style:italic;" textLength="36.9" lengthAdjust="spacingAndGlyphs">p = 0.0014</text>
<line x1="54.4" y1="361.4" x2="90.8" y2="361.4" stroke="#7a7a7a" stroke-width="1.5"/>
<text x="108.3" y="357.0" fill="#808080" style="font-size:10px;font-style:italic;" textLength="37.2" lengthAdjust="spacingAndGlyphs">p = 0.0010</text>
<line x1="108.3" y1="361.4" x2="145" y2="361.4" stroke="#7a7a7a" stroke-width="1.5"/>
<text x="160.5" y="387.5" fill="#808080" style="font-size:10px;font-style:italic;" textLength="36.5" lengthAdjust="spacingAndGlyphs">p = 0.0481</text>
<line x1="160.5" y1="391.9" x2="196.5" y2="391.9" stroke="#7a7a7a" stroke-width="1.5"/>
<circle cx="61.70" cy="374.80" r="2.3" fill="#858585"/>
<circle cx="55.50" cy="407.20" r="2.3" fill="#858585"/>
<circle cx="68.60" cy="404.70" r="2.3" fill="#858585"/>
<circle cx="61.70" cy="419.80" r="2.3" fill="#858585"/>
<circle cx="61.70" cy="425.30" r="2.3" fill="#858585"/>
<circle cx="61.70" cy="430.50" r="2.3" fill="#858585"/>
<circle cx="68.60" cy="444.80" r="2.3" fill="#858585"/>
<circle cx="55.50" cy="449.00" r="2.3" fill="#858585"/>
<circle cx="55.50" cy="457.60" r="2.3" fill="#858585"/>
<circle cx="68.60" cy="454.30" r="2.3" fill="#858585"/>
<line x1="61.7" y1="374.8" x2="61.7" y2="408.2" stroke="#1a1a1a" stroke-width="1.4"/>
<line x1="61.7" y1="448.9" x2="61.7" y2="457.3" stroke="#1a1a1a" stroke-width="1.4"/>
<line x1="57.300000000000004" y1="374.8" x2="66.10000000000001" y2="374.8" stroke="#1a1a1a" stroke-width="1.4"/>
<line x1="57.300000000000004" y1="457.3" x2="66.10000000000001" y2="457.3" stroke="#1a1a1a" stroke-width="1.4"/>
<rect x="54.50" y="408.20" width="15.10" height="40.70" fill="none" stroke="#1a1a1a" stroke-width="1.4"/>
<line x1="54.5" y1="428.4" x2="69.6" y2="428.4" stroke="#1a1a1a" stroke-width="1.4"/>
<circle cx="88.30" cy="418.80" r="2.3" fill="#0a0aff"/>
<circle cx="88.30" cy="440.00" r="2.3" fill="#0a0aff"/>
<circle cx="88.30" cy="451.70" r="2.3" fill="#0a0aff"/>
<circle cx="88.30" cy="458.10" r="2.3" fill="#0a0aff"/>
<circle cx="88.30" cy="467.10" r="2.3" fill="#0a0aff"/>
<circle cx="81.90" cy="472.20" r="2.3" fill="#0a0aff"/>
<circle cx="95.20" cy="472.80" r="2.3" fill="#0a0aff"/>
<circle cx="88.30" cy="480.90" r="2.3" fill="#0a0aff"/>
<circle cx="81.90" cy="492.60" r="2.3" fill="#0a0aff"/>
<circle cx="95.20" cy="488.30" r="2.3" fill="#0a0aff"/>
<line x1="88.3" y1="418.8" x2="88.3" y2="450.1" stroke="#1a1a1a" stroke-width="1.4"/>
<line x1="88.3" y1="481.9" x2="88.3" y2="492.6" stroke="#1a1a1a" stroke-width="1.4"/>
<line x1="83.89999999999999" y1="418.8" x2="92.7" y2="418.8" stroke="#1a1a1a" stroke-width="1.4"/>
<line x1="83.89999999999999" y1="492.6" x2="92.7" y2="492.6" stroke="#1a1a1a" stroke-width="1.4"/>
<rect x="80.90" y="450.10" width="15.50" height="31.80" fill="none" stroke="#1a1a1a" stroke-width="1.4"/>
<line x1="80.9" y1="469.3" x2="96.4" y2="469.3" stroke="#1a1a1a" stroke-width="1.4"/>
<circle cx="114.60" cy="371.40" r="2.3" fill="#858585"/>
<circle cx="114.60" cy="405.20" r="2.3" fill="#858585"/>
<circle cx="114.60" cy="421.90" r="2.3" fill="#858585"/>
<circle cx="121.10" cy="432.20" r="2.3" fill="#858585"/>
<circle cx="114.60" cy="436.20" r="2.3" fill="#858585"/>
<circle cx="108.20" cy="440.30" r="2.3" fill="#858585"/>
<circle cx="121.10" cy="440.30" r="2.3" fill="#858585"/>
<circle cx="117.70" cy="450.30" r="2.3" fill="#858585"/>
<circle cx="111.30" cy="454.70" r="2.3" fill="#858585"/>
<line x1="114.6" y1="371.4" x2="114.6" y2="414.7" stroke="#1a1a1a" stroke-width="1.4"/>
<line x1="114.6" y1="444.8" x2="114.6" y2="454.7" stroke="#1a1a1a" stroke-width="1.4"/>
<line x1="110.19999999999999" y1="371.4" x2="119.0" y2="371.4" stroke="#1a1a1a" stroke-width="1.4"/>
<line x1="110.19999999999999" y1="454.7" x2="119.0" y2="454.7" stroke="#1a1a1a" stroke-width="1.4"/>
<rect x="107.00" y="414.70" width="15.40" height="30.10" fill="none" stroke="#1a1a1a" stroke-width="1.4"/>
<line x1="107" y1="436.2" x2="122.4" y2="436.2" stroke="#1a1a1a" stroke-width="1.4"/>
<circle cx="140.90" cy="430.50" r="2.3" fill="#0a0aff"/>
<circle cx="140.90" cy="445.20" r="2.3" fill="#0a0aff"/>
<circle cx="137.50" cy="453.30" r="2.3" fill="#0a0aff"/>
<circle cx="144.00" cy="451.70" r="2.3" fill="#0a0aff"/>
<circle cx="140.90" cy="476.70" r="2.3" fill="#0a0aff"/>
<circle cx="134.60" cy="480.50" r="2.3" fill="#0a0aff"/>
<circle cx="147.50" cy="476.20" r="2.3" fill="#0a0aff"/>
<circle cx="147.50" cy="481.90" r="2.3" fill="#0a0aff"/>
<circle cx="137.50" cy="490.90" r="2.3" fill="#0a0aff"/>
<circle cx="144.00" cy="490.90" r="2.3" fill="#0a0aff"/>
<line x1="140.9" y1="430.5" x2="140.9" y2="451.3" stroke="#1a1a1a" stroke-width="1.4"/>
<line x1="140.9" y1="483.1" x2="140.9" y2="490.9" stroke="#1a1a1a" stroke-width="1.4"/>
<line x1="136.5" y1="430.5" x2="145.3" y2="430.5" stroke="#1a1a1a" stroke-width="1.4"/>
<line x1="136.5" y1="490.9" x2="145.3" y2="490.9" stroke="#1a1a1a" stroke-width="1.4"/>
<rect x="133.50" y="451.30" width="15.20" height="31.80" fill="none" stroke="#1a1a1a" stroke-width="1.4"/>
<line x1="133.5" y1="476.7" x2="148.7" y2="476.7" stroke="#1a1a1a" stroke-width="1.4"/>
<circle cx="167.40" cy="410.10" r="2.3" fill="#858585"/>
<circle cx="160.80" cy="422.60" r="2.3" fill="#858585"/>
<circle cx="173.80" cy="425.90" r="2.3" fill="#858585"/>
<circle cx="173.80" cy="443.00" r="2.3" fill="#858585"/>
<circle cx="160.80" cy="447.20" r="2.3" fill="#858585"/>
<circle cx="160.80" cy="455.10" r="2.3" fill="#858585"/>
<circle cx="160.80" cy="460.90" r="2.3" fill="#858585"/>
<circle cx="173.80" cy="459.50" r="2.3" fill="#858585"/>
<circle cx="160.80" cy="476.60" r="2.3" fill="#858585"/>
<circle cx="173.80" cy="476.60" r="2.3" fill="#858585"/>
<line x1="167.4" y1="410.1" x2="167.4" y2="426.3" stroke="#1a1a1a" stroke-width="1.4"/>
<line x1="167.4" y1="463.8" x2="167.4" y2="476.6" stroke="#1a1a1a" stroke-width="1.4"/>
<line x1="163.0" y1="410.1" x2="171.8" y2="410.1" stroke="#1a1a1a" stroke-width="1.4"/>
<line x1="163.0" y1="476.6" x2="171.8" y2="476.6" stroke="#1a1a1a" stroke-width="1.4"/>
<rect x="159.80" y="426.30" width="15.50" height="37.50" fill="none" stroke="#1a1a1a" stroke-width="1.4"/>
<line x1="159.8" y1="451.2" x2="175.3" y2="451.2" stroke="#1a1a1a" stroke-width="1.4"/>
<circle cx="187.30" cy="451.50" r="2.3" fill="#0a0aff"/>
<circle cx="193.70" cy="452.80" r="2.3" fill="#0a0aff"/>
<circle cx="193.70" cy="460.20" r="2.3" fill="#0a0aff"/>
<circle cx="187.30" cy="472.70" r="2.3" fill="#0a0aff"/>
<circle cx="193.70" cy="472.30" r="2.3" fill="#0a0aff"/>
<circle cx="200.40" cy="475.60" r="2.3" fill="#0a0aff"/>
<circle cx="193.70" cy="478.30" r="2.3" fill="#0a0aff"/>
<circle cx="200.40" cy="483.70" r="2.3" fill="#0a0aff"/>
<circle cx="193.70" cy="487.10" r="2.3" fill="#0a0aff"/>
<circle cx="193.70" cy="492.70" r="2.3" fill="#0a0aff"/>
<line x1="193.7" y1="451.5" x2="193.7" y2="459.5" stroke="#1a1a1a" stroke-width="1.4"/>
<line x1="193.7" y1="483.4" x2="193.7" y2="492.7" stroke="#1a1a1a" stroke-width="1.4"/>
<line x1="189.29999999999998" y1="451.5" x2="198.1" y2="451.5" stroke="#1a1a1a" stroke-width="1.4"/>
<line x1="189.29999999999998" y1="492.7" x2="198.1" y2="492.7" stroke="#1a1a1a" stroke-width="1.4"/>
<rect x="186.40" y="459.50" width="15.10" height="23.90" fill="none" stroke="#1a1a1a" stroke-width="1.4"/>
<line x1="186.4" y1="474.3" x2="201.5" y2="474.3" stroke="#1a1a1a" stroke-width="1.4"/>
<text x="219.5" y="329.9" fill="#000" style="font-size:18px;">c</text>
<text x="244" y="329.9" fill="#000" style="font-size:15px;" textLength="231.5" lengthAdjust="spacingAndGlyphs">VSV-Lassa subcellular localization</text>
<line x1="263.3" y1="364.5" x2="263.3" y2="511.8" stroke="#1a1a1a" stroke-width="1.6"/>
<line x1="257.3" y1="511.1" x2="443" y2="511.1" stroke="#1a1a1a" stroke-width="1.6"/>
<line x1="257.5" y1="511.1" x2="263.3" y2="511.1" stroke="#1a1a1a" stroke-width="1.4"/>
<text x="254.1" y="515.4" text-anchor="end" fill="#000" style="font-size:12.2px;">0</text>
<line x1="257.5" y1="486.73400000000004" x2="263.3" y2="486.73400000000004" stroke="#1a1a1a" stroke-width="1.4"/>
<text x="254.1" y="491.03400000000005" text-anchor="end" fill="#000" style="font-size:12.2px;">20</text>
<line x1="257.5" y1="462.36800000000005" x2="263.3" y2="462.36800000000005" stroke="#1a1a1a" stroke-width="1.4"/>
<text x="254.1" y="466.66800000000006" text-anchor="end" fill="#000" style="font-size:12.2px;">40</text>
<line x1="257.5" y1="438.002" x2="263.3" y2="438.002" stroke="#1a1a1a" stroke-width="1.4"/>
<text x="254.1" y="442.302" text-anchor="end" fill="#000" style="font-size:12.2px;">60</text>
<line x1="257.5" y1="413.636" x2="263.3" y2="413.636" stroke="#1a1a1a" stroke-width="1.4"/>
<text x="254.1" y="417.93600000000004" text-anchor="end" fill="#000" style="font-size:12.2px;">80</text>
<line x1="257.5" y1="389.27000000000004" x2="263.3" y2="389.27000000000004" stroke="#1a1a1a" stroke-width="1.4"/>
<text x="254.1" y="393.57000000000005" text-anchor="end" fill="#000" style="font-size:12.2px;">100</text>
<line x1="257.5" y1="364.904" x2="263.3" y2="364.904" stroke="#1a1a1a" stroke-width="1.4"/>
<text x="254.1" y="369.204" text-anchor="end" fill="#000" style="font-size:12.2px;">120</text>
<text x="232" y="435" text-anchor="middle" fill="#000" style="font-size:14px;" transform="rotate(-90 232 435)">% of virus particles</text>
<line x1="280.8" y1="511.1" x2="280.8" y2="517" stroke="#1a1a1a" stroke-width="1.4"/>
<line x1="304.1" y1="511.1" x2="304.1" y2="517" stroke="#1a1a1a" stroke-width="1.4"/>
<line x1="344.2" y1="511.1" x2="344.2" y2="517" stroke="#1a1a1a" stroke-width="1.4"/>
<line x1="367.6" y1="511.1" x2="367.6" y2="517" stroke="#1a1a1a" stroke-width="1.4"/>
<line x1="407.9" y1="511.1" x2="407.9" y2="517" stroke="#1a1a1a" stroke-width="1.4"/>
<line x1="431.0" y1="511.1" x2="431.0" y2="517" stroke="#1a1a1a" stroke-width="1.4"/>
<text x="277.7" y="528.3" text-anchor="middle" fill="#000" style="font-size:12px;" textLength="13.7" lengthAdjust="spacingAndGlyphs">Ctl</text>
<text x="305.35" y="528.3" text-anchor="middle" fill="#000" style="font-size:12px;" textLength="32.3" lengthAdjust="spacingAndGlyphs">M7KD</text>
<text x="341.09999999999997" y="528.3" text-anchor="middle" fill="#000" style="font-size:12px;" textLength="13.7" lengthAdjust="spacingAndGlyphs">Ctl</text>
<text x="368.85" y="528.3" text-anchor="middle" fill="#000" style="font-size:12px;" textLength="32.3" lengthAdjust="spacingAndGlyphs">M7KD</text>
<text x="404.79999999999995" y="528.3" text-anchor="middle" fill="#000" style="font-size:12px;" textLength="13.7" lengthAdjust="spacingAndGlyphs">Ctl</text>
<text x="432.25" y="528.3" text-anchor="middle" fill="#000" style="font-size:12px;" textLength="32.3" lengthAdjust="spacingAndGlyphs">M7KD</text>
<line x1="270.4" y1="535" x2="318.6" y2="535" stroke="#1a1a1a" stroke-width="1.4"/>
<text x="294.5" y="548.2" text-anchor="middle" fill="#000" style="font-size:14px;">30&#8217;</text>
<line x1="334.7" y1="535" x2="382" y2="535" stroke="#1a1a1a" stroke-width="1.4"/>
<text x="358.35" y="548.2" text-anchor="middle" fill="#000" style="font-size:14px;">45&#8217;</text>
<line x1="398.9" y1="535" x2="446.2" y2="535" stroke="#1a1a1a" stroke-width="1.4"/>
<text x="422.54999999999995" y="548.2" text-anchor="middle" fill="#000" style="font-size:14px;">60&#8217;</text>
<rect x="282.5" y="347.8" width="15" height="6.3" rx="1.2" fill="#808080" stroke="#222" stroke-width="1.2"/>
<text x="301" y="354.9" fill="#000" style="font-size:12.5px;">PM</text>
<rect x="327" y="347.8" width="15" height="6.3" rx="1.2" fill="#ff8080" stroke="#222" stroke-width="1.2"/>
<text x="345.3" y="354.9" fill="#000" style="font-size:12.5px;">EEA1</text>
<rect x="382.6" y="347.8" width="15" height="6.3" rx="1.2" fill="#4f9cf5" stroke="#222" stroke-width="1.2"/>
<text x="401" y="354.9" fill="#000" style="font-size:12.5px;">NPC1</text>
<rect x="299.5" y="367.2" width="15" height="6.3" rx="1.2" fill="#b25ddd" stroke="#222" stroke-width="1.2"/>
<text x="318" y="373.9" fill="#000" style="font-size:12.5px;">Both</text>
<rect x="354.2" y="367.2" width="15" height="6.3" rx="1.2" fill="#0bb80b" stroke="#222" stroke-width="1.2"/>
<text x="372.5" y="373.9" fill="#000" style="font-size:12.5px;">Free</text>
<rect x="272.70" y="506.84" width="16.20" height="4.26" fill="#0bb80b" stroke="#1a1a1a" stroke-width="1.3"/>
<rect x="272.70" y="499.53" width="16.20" height="7.31" fill="#b25ddd" stroke="#1a1a1a" stroke-width="1.3"/>
<rect x="272.70" y="465.29" width="16.20" height="34.23" fill="#4f9cf5" stroke="#1a1a1a" stroke-width="1.3"/>
<rect x="272.70" y="396.34" width="16.20" height="68.96" fill="#ff8080" stroke="#1a1a1a" stroke-width="1.3"/>
<rect x="272.70" y="389.27" width="16.20" height="7.07" fill="#808080" stroke="#1a1a1a" stroke-width="1.3"/>
<line x1="280.8" y1="506.83595" x2="280.8" y2="505.25216" stroke="#1a1a1a" stroke-width="1.3"/>
<line x1="276.6" y1="505.25216" x2="285.0" y2="505.25216" stroke="#1a1a1a" stroke-width="1.3"/>
<line x1="280.8" y1="499.52615000000003" x2="280.8" y2="496.84589" stroke="#1a1a1a" stroke-width="1.3"/>
<line x1="276.6" y1="496.84589" x2="285.0" y2="496.84589" stroke="#1a1a1a" stroke-width="1.3"/>
<line x1="280.8" y1="465.29192" x2="280.8" y2="461.14970000000005" stroke="#1a1a1a" stroke-width="1.3"/>
<line x1="276.6" y1="461.14970000000005" x2="285.0" y2="461.14970000000005" stroke="#1a1a1a" stroke-width="1.3"/>
<line x1="280.8" y1="389.27000000000004" x2="280.8" y2="386.83340000000004" stroke="#1a1a1a" stroke-width="1.3"/>
<line x1="276.6" y1="386.83340000000004" x2="285.0" y2="386.83340000000004" stroke="#1a1a1a" stroke-width="1.3"/>
<rect x="296.00" y="509.88" width="16.20" height="1.22" fill="#0bb80b" stroke="#1a1a1a" stroke-width="1.3"/>
<rect x="296.00" y="505.01" width="16.20" height="4.87" fill="#b25ddd" stroke="#1a1a1a" stroke-width="1.3"/>
<rect x="296.00" y="495.26" width="16.20" height="9.75" fill="#4f9cf5" stroke="#1a1a1a" stroke-width="1.3"/>
<rect x="296.00" y="417.29" width="16.20" height="77.97" fill="#ff8080" stroke="#1a1a1a" stroke-width="1.3"/>
<rect x="296.00" y="389.27" width="16.20" height="28.02" fill="#808080" stroke="#1a1a1a" stroke-width="1.3"/>
<line x1="304.1" y1="509.8817" x2="304.1" y2="508.6634" stroke="#1a1a1a" stroke-width="1.3"/>
<line x1="299.90000000000003" y1="508.6634" x2="308.3" y2="508.6634" stroke="#1a1a1a" stroke-width="1.3"/>
<line x1="304.1" y1="505.0085" x2="304.1" y2="502.69373" stroke="#1a1a1a" stroke-width="1.3"/>
<line x1="299.90000000000003" y1="502.69373" x2="308.3" y2="502.69373" stroke="#1a1a1a" stroke-width="1.3"/>
<line x1="304.1" y1="495.26210000000003" x2="304.1" y2="492.21635000000003" stroke="#1a1a1a" stroke-width="1.3"/>
<line x1="299.90000000000003" y1="492.21635000000003" x2="308.3" y2="492.21635000000003" stroke="#1a1a1a" stroke-width="1.3"/>
<line x1="304.1" y1="417.2909" x2="304.1" y2="412.05221000000006" stroke="#1a1a1a" stroke-width="1.3"/>
<line x1="299.90000000000003" y1="412.05221000000006" x2="308.3" y2="412.05221000000006" stroke="#1a1a1a" stroke-width="1.3"/>
<line x1="304.1" y1="389.27000000000004" x2="304.1" y2="385.61510000000004" stroke="#1a1a1a" stroke-width="1.3"/>
<line x1="299.90000000000003" y1="385.61510000000004" x2="308.3" y2="385.61510000000004" stroke="#1a1a1a" stroke-width="1.3"/>
<rect x="335.90" y="501.60" width="16.60" height="9.50" fill="#0bb80b" stroke="#1a1a1a" stroke-width="1.3"/>
<rect x="335.90" y="495.26" width="16.60" height="6.34" fill="#b25ddd" stroke="#1a1a1a" stroke-width="1.3"/>
<rect x="335.90" y="422.90" width="16.60" height="72.37" fill="#4f9cf5" stroke="#1a1a1a" stroke-width="1.3"/>
<rect x="335.90" y="392.92" width="16.60" height="29.97" fill="#ff8080" stroke="#1a1a1a" stroke-width="1.3"/>
<rect x="335.90" y="389.27" width="16.60" height="3.65" fill="#808080" stroke="#1a1a1a" stroke-width="1.3"/>
<line x1="344.2" y1="501.59726" x2="344.2" y2="499.28249000000005" stroke="#1a1a1a" stroke-width="1.3"/>
<line x1="340.0" y1="499.28249000000005" x2="348.4" y2="499.28249000000005" stroke="#1a1a1a" stroke-width="1.3"/>
<line x1="344.2" y1="495.26210000000003" x2="344.2" y2="493.06916" stroke="#1a1a1a" stroke-width="1.3"/>
<line x1="340.0" y1="493.06916" x2="348.4" y2="493.06916" stroke="#1a1a1a" stroke-width="1.3"/>
<line x1="344.2" y1="422.89508" x2="344.2" y2="417.2909" stroke="#1a1a1a" stroke-width="1.3"/>
<line x1="340.0" y1="417.2909" x2="348.4" y2="417.2909" stroke="#1a1a1a" stroke-width="1.3"/>
<line x1="344.2" y1="389.27000000000004" x2="344.2" y2="387.80804" stroke="#1a1a1a" stroke-width="1.3"/>
<line x1="340.0" y1="387.80804" x2="348.4" y2="387.80804" stroke="#1a1a1a" stroke-width="1.3"/>
<rect x="359.30" y="508.30" width="16.60" height="2.80" fill="#0bb80b" stroke="#1a1a1a" stroke-width="1.3"/>
<rect x="359.30" y="500.50" width="16.60" height="7.80" fill="#b25ddd" stroke="#1a1a1a" stroke-width="1.3"/>
<rect x="359.30" y="459.44" width="16.60" height="41.06" fill="#4f9cf5" stroke="#1a1a1a" stroke-width="1.3"/>
<rect x="359.30" y="393.66" width="16.60" height="65.79" fill="#ff8080" stroke="#1a1a1a" stroke-width="1.3"/>
<rect x="359.30" y="389.27" width="16.60" height="4.39" fill="#808080" stroke="#1a1a1a" stroke-width="1.3"/>
<line x1="367.6" y1="508.29791" x2="367.6" y2="506.34863" stroke="#1a1a1a" stroke-width="1.3"/>
<line x1="363.40000000000003" y1="506.34863" x2="371.8" y2="506.34863" stroke="#1a1a1a" stroke-width="1.3"/>
<line x1="367.6" y1="500.50079000000005" x2="367.6" y2="496.72406" stroke="#1a1a1a" stroke-width="1.3"/>
<line x1="363.40000000000003" y1="496.72406" x2="371.8" y2="496.72406" stroke="#1a1a1a" stroke-width="1.3"/>
<line x1="367.6" y1="459.44408000000004" x2="367.6" y2="451.4033" stroke="#1a1a1a" stroke-width="1.3"/>
<line x1="363.40000000000003" y1="451.4033" x2="371.8" y2="451.4033" stroke="#1a1a1a" stroke-width="1.3"/>
<line x1="367.6" y1="393.65588" x2="367.6" y2="391.09745000000004" stroke="#1a1a1a" stroke-width="1.3"/>
<line x1="363.40000000000003" y1="391.09745000000004" x2="371.8" y2="391.09745000000004" stroke="#1a1a1a" stroke-width="1.3"/>
<line x1="367.6" y1="389.27000000000004" x2="367.6" y2="384.39680000000004" stroke="#1a1a1a" stroke-width="1.3"/>
<line x1="363.40000000000003" y1="384.39680000000004" x2="371.8" y2="384.39680000000004" stroke="#1a1a1a" stroke-width="1.3"/>
<rect x="399.50" y="502.57" width="16.80" height="8.53" fill="#0bb80b" stroke="#1a1a1a" stroke-width="1.3"/>
<rect x="399.50" y="496.72" width="16.80" height="5.85" fill="#b25ddd" stroke="#1a1a1a" stroke-width="1.3"/>
<rect x="399.50" y="407.30" width="16.80" height="89.42" fill="#4f9cf5" stroke="#1a1a1a" stroke-width="1.3"/>
<rect x="399.50" y="393.41" width="16.80" height="13.89" fill="#ff8080" stroke="#1a1a1a" stroke-width="1.3"/>
<rect x="399.50" y="389.27" width="16.80" height="4.14" fill="#808080" stroke="#1a1a1a" stroke-width="1.3"/>
<line x1="407.9" y1="502.5719" x2="407.9" y2="500.13530000000003" stroke="#1a1a1a" stroke-width="1.3"/>
<line x1="403.7" y1="500.13530000000003" x2="412.09999999999997" y2="500.13530000000003" stroke="#1a1a1a" stroke-width="1.3"/>
<line x1="407.9" y1="496.72406" x2="407.9" y2="494.16563" stroke="#1a1a1a" stroke-width="1.3"/>
<line x1="403.7" y1="494.16563" x2="412.09999999999997" y2="494.16563" stroke="#1a1a1a" stroke-width="1.3"/>
<line x1="407.9" y1="407.30084" x2="407.9" y2="404.86424" stroke="#1a1a1a" stroke-width="1.3"/>
<line x1="403.7" y1="404.86424" x2="412.09999999999997" y2="404.86424" stroke="#1a1a1a" stroke-width="1.3"/>
<line x1="407.9" y1="389.27000000000004" x2="407.9" y2="388.17353" stroke="#1a1a1a" stroke-width="1.3"/>
<line x1="403.7" y1="388.17353" x2="412.09999999999997" y2="388.17353" stroke="#1a1a1a" stroke-width="1.3"/>
<rect x="422.80" y="506.84" width="16.40" height="4.26" fill="#0bb80b" stroke="#1a1a1a" stroke-width="1.3"/>
<rect x="422.80" y="494.17" width="16.40" height="12.67" fill="#b25ddd" stroke="#1a1a1a" stroke-width="1.3"/>
<rect x="422.80" y="408.15" width="16.40" height="86.01" fill="#4f9cf5" stroke="#1a1a1a" stroke-width="1.3"/>
<rect x="422.80" y="395.73" width="16.40" height="12.43" fill="#ff8080" stroke="#1a1a1a" stroke-width="1.3"/>
<rect x="422.80" y="389.27" width="16.40" height="6.46" fill="#808080" stroke="#1a1a1a" stroke-width="1.3"/>
<line x1="431.0" y1="506.83595" x2="431.0" y2="504.27752000000004" stroke="#1a1a1a" stroke-width="1.3"/>
<line x1="426.8" y1="504.27752000000004" x2="435.2" y2="504.27752000000004" stroke="#1a1a1a" stroke-width="1.3"/>
<line x1="431.0" y1="494.16563" x2="431.0" y2="490.99805000000003" stroke="#1a1a1a" stroke-width="1.3"/>
<line x1="426.8" y1="490.99805000000003" x2="435.2" y2="490.99805000000003" stroke="#1a1a1a" stroke-width="1.3"/>
<line x1="431.0" y1="408.15365" x2="431.0" y2="401.81849" stroke="#1a1a1a" stroke-width="1.3"/>
<line x1="426.8" y1="401.81849" x2="435.2" y2="401.81849" stroke="#1a1a1a" stroke-width="1.3"/>
<line x1="431.0" y1="395.72699" x2="431.0" y2="392.31575000000004" stroke="#1a1a1a" stroke-width="1.3"/>
<line x1="426.8" y1="392.31575000000004" x2="435.2" y2="392.31575000000004" stroke="#1a1a1a" stroke-width="1.3"/>
<line x1="431.0" y1="389.27000000000004" x2="431.0" y2="388.05170000000004" stroke="#1a1a1a" stroke-width="1.3"/>
<line x1="426.8" y1="388.05170000000004" x2="435.2" y2="388.05170000000004" stroke="#1a1a1a" stroke-width="1.3"/>
<text x="491" y="330" fill="#000" style="font-size:18px;">d</text>
<text x="581.3" y="330.2" text-anchor="middle" fill="#000" style="font-size:15.25px;">Early and Late</text>
<text x="581.5" y="348.2" text-anchor="middle" fill="#000" style="font-size:15.3px;">Endosome Localization</text>
<rect x="504.70" y="377.40" width="70.30" height="149.90" fill="#fdeded"/>
<rect x="581.20" y="377.40" width="70.20" height="149.90" fill="#e3f1fb"/>
<line x1="504.7" y1="377.4" x2="504.7" y2="528" stroke="#1a1a1a" stroke-width="1.6"/>
<line x1="504" y1="527.3" x2="575" y2="527.3" stroke="#1a1a1a" stroke-width="1.6"/>
<line x1="581.3" y1="527.3" x2="652.5" y2="527.3" stroke="#1a1a1a" stroke-width="1.6"/>
<line x1="651.9" y1="377.4" x2="651.9" y2="528" stroke="#1a1a1a" stroke-width="1.6"/>
<line x1="499" y1="527.3" x2="504.7" y2="527.3" stroke="#1a1a1a" stroke-width="1.4"/>
<text x="497.5" y="531.5999999999999" text-anchor="end" fill="#000" style="font-size:12px;">0</text>
<line x1="651.9" y1="527.3" x2="657.5" y2="527.3" stroke="#1a1a1a" stroke-width="1.4"/>
<text x="656.2" y="531.5999999999999" fill="#000" style="font-size:12px;">0</text>
<line x1="499" y1="489.97999999999996" x2="504.7" y2="489.97999999999996" stroke="#1a1a1a" stroke-width="1.4"/>
<text x="497.5" y="494.28" text-anchor="end" fill="#000" style="font-size:12px;">20</text>
<line x1="651.9" y1="489.97999999999996" x2="657.5" y2="489.97999999999996" stroke="#1a1a1a" stroke-width="1.4"/>
<text x="656.2" y="494.28" fill="#000" style="font-size:12px;">20</text>
<line x1="499" y1="452.65999999999997" x2="504.7" y2="452.65999999999997" stroke="#1a1a1a" stroke-width="1.4"/>
<text x="497.5" y="456.96" text-anchor="end" fill="#000" style="font-size:12px;">40</text>
<line x1="651.9" y1="452.65999999999997" x2="657.5" y2="452.65999999999997" stroke="#1a1a1a" stroke-width="1.4"/>
<text x="656.2" y="456.96" fill="#000" style="font-size:12px;">40</text>
<line x1="499" y1="415.3399999999999" x2="504.7" y2="415.3399999999999" stroke="#1a1a1a" stroke-width="1.4"/>
<text x="497.5" y="419.63999999999993" text-anchor="end" fill="#000" style="font-size:12px;">60</text>
<line x1="651.9" y1="415.3399999999999" x2="657.5" y2="415.3399999999999" stroke="#1a1a1a" stroke-width="1.4"/>
<text x="656.2" y="419.63999999999993" fill="#000" style="font-size:12px;">60</text>
<line x1="499" y1="378.02" x2="504.7" y2="378.02" stroke="#1a1a1a" stroke-width="1.4"/>
<text x="497.5" y="382.32" text-anchor="end" fill="#000" style="font-size:12px;">80</text>
<line x1="651.9" y1="378.02" x2="657.5" y2="378.02" stroke="#1a1a1a" stroke-width="1.4"/>
<text x="656.2" y="382.32" fill="#000" style="font-size:12px;">80</text>
<line x1="512.3" y1="527.3" x2="512.3" y2="533.6" stroke="#1a1a1a" stroke-width="1.4"/>
<line x1="539.5" y1="527.3" x2="539.5" y2="533.6" stroke="#1a1a1a" stroke-width="1.4"/>
<line x1="566.1" y1="527.3" x2="566.1" y2="533.6" stroke="#1a1a1a" stroke-width="1.4"/>
<line x1="589.4" y1="527.3" x2="589.4" y2="533.6" stroke="#1a1a1a" stroke-width="1.4"/>
<line x1="616.4" y1="527.3" x2="616.4" y2="533.6" stroke="#1a1a1a" stroke-width="1.4"/>
<line x1="643.4" y1="527.3" x2="643.4" y2="533.6" stroke="#1a1a1a" stroke-width="1.4"/>
<text x="512.3" y="546.8" text-anchor="middle" fill="#000" style="font-size:12px;">30&#8217;</text>
<text x="539.5" y="546.8" text-anchor="middle" fill="#000" style="font-size:12px;">45&#8217;</text>
<text x="566.1" y="546.8" text-anchor="middle" fill="#000" style="font-size:12px;">60&#8217;</text>
<text x="589.4" y="546.8" text-anchor="middle" fill="#000" style="font-size:12px;">30&#8217;</text>
<text x="616.4" y="546.8" text-anchor="middle" fill="#000" style="font-size:12px;">45&#8217;</text>
<text x="643.4" y="546.8" text-anchor="middle" fill="#000" style="font-size:12px;">60&#8217;</text>
<text x="479.5" y="452.8" text-anchor="middle" fill="#f05a5a" style="font-size:14px;" transform="rotate(-90 479.5 452.8)">% of viruses in EEA1</text>
<text x="674" y="453" text-anchor="middle" fill="#4a8fdc" style="font-size:14px;" transform="rotate(90 674 453)">% of viuruses in NPC1</text>
<polyline points="512.30,422.43 539.50,481.96 566.10,507.71" fill="none" stroke="#f05a5a" stroke-width="2"/>
<line x1="512.3" y1="427.46899999999994" x2="512.3" y2="415.3399999999999" stroke="#f05a5a" stroke-width="1.3"/>
<line x1="509.09999999999997" y1="427.46899999999994" x2="515.5" y2="427.46899999999994" stroke="#f05a5a" stroke-width="1.3"/>
<line x1="509.09999999999997" y1="415.3399999999999" x2="515.5" y2="415.3399999999999" stroke="#f05a5a" stroke-width="1.3"/>
<circle cx="512.30" cy="422.43" r="3.6" fill="#f05a5a"/>
<line x1="539.5" y1="486.24799999999993" x2="539.5" y2="476.91799999999995" stroke="#f05a5a" stroke-width="1.3"/>
<line x1="536.3" y1="486.24799999999993" x2="542.7" y2="486.24799999999993" stroke="#f05a5a" stroke-width="1.3"/>
<line x1="536.3" y1="476.91799999999995" x2="542.7" y2="476.91799999999995" stroke="#f05a5a" stroke-width="1.3"/>
<circle cx="539.50" cy="481.96" r="3.6" fill="#f05a5a"/>
<line x1="566.1" y1="512.372" x2="566.1" y2="502.1089999999999" stroke="#f05a5a" stroke-width="1.3"/>
<line x1="562.9" y1="512.372" x2="569.3000000000001" y2="512.372" stroke="#f05a5a" stroke-width="1.3"/>
<line x1="562.9" y1="502.1089999999999" x2="569.3000000000001" y2="502.1089999999999" stroke="#f05a5a" stroke-width="1.3"/>
<circle cx="566.10" cy="507.71" r="3.6" fill="#f05a5a"/>
<polyline points="512.30,408.06 539.50,425.42 566.10,507.15" fill="none" stroke="#f05a5a" stroke-width="2" stroke-dasharray="4.5 3"/>
<line x1="512.3" y1="415.3399999999999" x2="512.3" y2="400.4119999999999" stroke="#f05a5a" stroke-width="1.3"/>
<line x1="509.09999999999997" y1="415.3399999999999" x2="515.5" y2="415.3399999999999" stroke="#f05a5a" stroke-width="1.3"/>
<line x1="509.09999999999997" y1="400.4119999999999" x2="515.5" y2="400.4119999999999" stroke="#f05a5a" stroke-width="1.3"/>
<circle cx="512.30" cy="408.06" r="3.6" fill="#f05a5a"/>
<line x1="539.5" y1="437.73199999999997" x2="539.5" y2="413.47399999999993" stroke="#f05a5a" stroke-width="1.3"/>
<line x1="536.3" y1="437.73199999999997" x2="542.7" y2="437.73199999999997" stroke="#f05a5a" stroke-width="1.3"/>
<line x1="536.3" y1="413.47399999999993" x2="542.7" y2="413.47399999999993" stroke="#f05a5a" stroke-width="1.3"/>
<circle cx="539.50" cy="425.42" r="3.6" fill="#f05a5a"/>
<line x1="566.1" y1="512.372" x2="566.1" y2="503.042" stroke="#f05a5a" stroke-width="1.3"/>
<line x1="562.9" y1="512.372" x2="569.3000000000001" y2="512.372" stroke="#f05a5a" stroke-width="1.3"/>
<line x1="562.9" y1="503.042" x2="569.3000000000001" y2="503.042" stroke="#f05a5a" stroke-width="1.3"/>
<circle cx="566.10" cy="507.15" r="3.6" fill="#f05a5a"/>
<polyline points="589.40,474.87 616.40,415.71 643.40,391.08" fill="none" stroke="#4a8fdc" stroke-width="2"/>
<line x1="589.4" y1="478.78399999999993" x2="589.4" y2="469.45399999999995" stroke="#4a8fdc" stroke-width="1.3"/>
<line x1="586.1999999999999" y1="478.78399999999993" x2="592.6" y2="478.78399999999993" stroke="#4a8fdc" stroke-width="1.3"/>
<line x1="586.1999999999999" y1="469.45399999999995" x2="592.6" y2="469.45399999999995" stroke="#4a8fdc" stroke-width="1.3"/>
<circle cx="589.40" cy="474.87" r="3.6" fill="#4a8fdc"/>
<line x1="616.4" y1="423.17719999999997" x2="616.4" y2="408.80899999999997" stroke="#4a8fdc" stroke-width="1.3"/>
<line x1="613.1999999999999" y1="423.17719999999997" x2="619.6" y2="423.17719999999997" stroke="#4a8fdc" stroke-width="1.3"/>
<line x1="613.1999999999999" y1="408.80899999999997" x2="619.6" y2="408.80899999999997" stroke="#4a8fdc" stroke-width="1.3"/>
<circle cx="616.40" cy="415.71" r="3.6" fill="#4a8fdc"/>
<line x1="643.4" y1="394.81399999999996" x2="643.4" y2="387.3499999999999" stroke="#4a8fdc" stroke-width="1.3"/>
<line x1="640.1999999999999" y1="394.81399999999996" x2="646.6" y2="394.81399999999996" stroke="#4a8fdc" stroke-width="1.3"/>
<line x1="640.1999999999999" y1="387.3499999999999" x2="646.6" y2="387.3499999999999" stroke="#4a8fdc" stroke-width="1.3"/>
<circle cx="643.40" cy="391.08" r="3.6" fill="#4a8fdc"/>
<polyline points="589.40,513.12 616.40,465.35 643.40,395.37" fill="none" stroke="#4a8fdc" stroke-width="2" stroke-dasharray="4.5 3"/>
<line x1="589.4" y1="517.0369999999999" x2="589.4" y2="508.63999999999993" stroke="#4a8fdc" stroke-width="1.3"/>
<line x1="586.1999999999999" y1="517.0369999999999" x2="592.6" y2="517.0369999999999" stroke="#4a8fdc" stroke-width="1.3"/>
<line x1="586.1999999999999" y1="508.63999999999993" x2="592.6" y2="508.63999999999993" stroke="#4a8fdc" stroke-width="1.3"/>
<circle cx="589.40" cy="513.12" r="3.6" fill="#4a8fdc"/>
<line x1="616.4" y1="477.85099999999994" x2="616.4" y2="453.59299999999996" stroke="#4a8fdc" stroke-width="1.3"/>
<line x1="613.1999999999999" y1="477.85099999999994" x2="619.6" y2="477.85099999999994" stroke="#4a8fdc" stroke-width="1.3"/>
<line x1="613.1999999999999" y1="453.59299999999996" x2="619.6" y2="453.59299999999996" stroke="#4a8fdc" stroke-width="1.3"/>
<circle cx="616.40" cy="465.35" r="3.6" fill="#4a8fdc"/>
<line x1="643.4" y1="403.58419999999995" x2="643.4" y2="389.21599999999995" stroke="#4a8fdc" stroke-width="1.3"/>
<line x1="640.1999999999999" y1="403.58419999999995" x2="646.6" y2="403.58419999999995" stroke="#4a8fdc" stroke-width="1.3"/>
<line x1="640.1999999999999" y1="389.21599999999995" x2="646.6" y2="389.21599999999995" stroke="#4a8fdc" stroke-width="1.3"/>
<circle cx="643.40" cy="395.37" r="3.6" fill="#4a8fdc"/>
<text x="526.5" y="411.5" fill="#222" style="font-size:9.6px;font-style:italic;" textLength="33.5" lengthAdjust="spacingAndGlyphs">p < 0.0001</text>
<text x="600.6" y="407.7" fill="#222" style="font-size:9.6px;font-style:italic;" textLength="32.7" lengthAdjust="spacingAndGlyphs">p < 0.0001</text>
<text x="573.2" y="466.3" fill="#222" style="font-size:9.6px;font-style:italic;" textLength="34.4" lengthAdjust="spacingAndGlyphs">p = 0.0008</text>
<line x1="526.4" y1="364.85" x2="547.5" y2="364.85" stroke="#f05a5a" stroke-width="1.5"/>
<line x1="526.4" y1="366.35" x2="547.5" y2="366.35" stroke="#4a8fdc" stroke-width="1.5"/>
<path d="M532.8,365.6 a4.2,4.2 0 0 1 8.4,0 z" fill="#f05a5a"/>
<path d="M532.8,365.6 a4.2,4.2 0 0 0 8.4,0 z" fill="#4a8fdc"/>
<text x="553" y="370.9" fill="#000" style="font-size:15px;">Ctl</text>
<line x1="587.3" y1="364.85" x2="610.6" y2="364.85" stroke="#f05a5a" stroke-width="1.5" stroke-dasharray="4.5 3"/>
<line x1="587.3" y1="366.35" x2="610.6" y2="366.35" stroke="#4a8fdc" stroke-width="1.5" stroke-dasharray="4.5 3"/>
<path d="M594.5,365.6 a4.2,4.2 0 0 1 8.4,0 z" fill="#f05a5a"/>
<path d="M594.5,365.6 a4.2,4.2 0 0 0 8.4,0 z" fill="#4a8fdc"/>
<text x="613.3" y="370.9" fill="#000" style="font-size:15px;">M7KD</text>
<text x="9.8" y="609.5" fill="#000" style="font-size:18px;">e</text>
<text x="104.7" y="612.7" text-anchor="middle" fill="#000" style="font-size:14px;">VSV-G 60&#8217;</text>
<line x1="60.2" y1="615.3" x2="60.2" y2="763.8" stroke="#1a1a1a" stroke-width="1.6"/>
<line x1="54.4" y1="763.1" x2="141.7" y2="763.1" stroke="#1a1a1a" stroke-width="1.6"/>
<line x1="54.4" y1="763.1" x2="60.2" y2="763.1" stroke="#1a1a1a" stroke-width="1.4"/>
<text x="52.3" y="768.7" text-anchor="end" fill="#000" style="font-size:14px;">0</text>
<line x1="54.4" y1="714.0" x2="60.2" y2="714.0" stroke="#1a1a1a" stroke-width="1.4"/>
<text x="52.3" y="719.6" text-anchor="end" fill="#000" style="font-size:14px;">50</text>
<line x1="54.4" y1="664.9" x2="60.2" y2="664.9" stroke="#1a1a1a" stroke-width="1.4"/>
<text x="52.3" y="670.5" text-anchor="end" fill="#000" style="font-size:14px;">100</text>
<line x1="54.4" y1="615.8" x2="60.2" y2="615.8" stroke="#1a1a1a" stroke-width="1.4"/>
<text x="52.3" y="621.4" text-anchor="end" fill="#000" style="font-size:14px;">150</text>
<text x="25" y="690.5" text-anchor="middle" fill="#000" style="font-size:14px;" transform="rotate(-90 25 690.5)"># of Viruses</text>
<line x1="83.3" y1="763.1" x2="83.3" y2="769.2" stroke="#1a1a1a" stroke-width="1.4"/>
<line x1="117.9" y1="763.1" x2="117.9" y2="769.2" stroke="#1a1a1a" stroke-width="1.4"/>
<text x="79" y="781" text-anchor="middle" fill="#000" style="font-size:14px;">Ctl</text>
<text x="118" y="781" text-anchor="middle" fill="#000" style="font-size:14px;">M7KD</text>
<text x="83.5" y="645.2" fill="#7f7f7f" style="font-size:10px;font-style:italic;" textLength="37" lengthAdjust="spacingAndGlyphs">p = 0.4418</text>
<line x1="83.5" y1="648.4" x2="120.5" y2="648.4" stroke="#8c8c8c" stroke-width="1.3"/>
<circle cx="83.20" cy="668.30" r="2.3" fill="#858585"/>
<circle cx="73.90" cy="681.70" r="2.3" fill="#858585"/>
<circle cx="92.70" cy="681.70" r="2.3" fill="#858585"/>
<circle cx="83.20" cy="685.00" r="2.3" fill="#858585"/>
<circle cx="92.70" cy="691.50" r="2.3" fill="#858585"/>
<circle cx="83.20" cy="694.60" r="2.3" fill="#858585"/>
<circle cx="78.60" cy="702.00" r="2.3" fill="#858585"/>
<circle cx="87.80" cy="701.10" r="2.3" fill="#858585"/>
<circle cx="83.20" cy="712.20" r="2.3" fill="#858585"/>
<circle cx="83.20" cy="718.30" r="2.3" fill="#858585"/>
<line x1="83.2" y1="668.3" x2="83.2" y2="682.8" stroke="#1a1a1a" stroke-width="1.4"/>
<line x1="83.2" y1="703.5" x2="83.2" y2="718.3" stroke="#1a1a1a" stroke-width="1.4"/>
<line x1="77.60000000000001" y1="668.3" x2="88.8" y2="668.3" stroke="#1a1a1a" stroke-width="1.4"/>
<line x1="77.60000000000001" y1="718.3" x2="88.8" y2="718.3" stroke="#1a1a1a" stroke-width="1.4"/>
<rect x="72.50" y="682.80" width="21.30" height="20.70" fill="none" stroke="#1a1a1a" stroke-width="1.4"/>
<line x1="72.5" y1="693.3" x2="93.8" y2="693.3" stroke="#1a1a1a" stroke-width="1.4"/>
<circle cx="117.90" cy="660.50" r="2.3" fill="#0a0aff"/>
<circle cx="117.90" cy="669.30" r="2.3" fill="#0a0aff"/>
<circle cx="117.90" cy="678.80" r="2.3" fill="#0a0aff"/>
<circle cx="117.90" cy="694.60" r="2.3" fill="#0a0aff"/>
<circle cx="117.90" cy="711.10" r="2.3" fill="#0a0aff"/>
<circle cx="108.50" cy="713.00" r="2.3" fill="#0a0aff"/>
<circle cx="127.50" cy="714.10" r="2.3" fill="#0a0aff"/>
<circle cx="117.90" cy="717.20" r="2.3" fill="#0a0aff"/>
<circle cx="113.40" cy="725.00" r="2.3" fill="#0a0aff"/>
<circle cx="122.60" cy="723.00" r="2.3" fill="#0a0aff"/>
<line x1="117.9" y1="660.5" x2="117.9" y2="677.5" stroke="#1a1a1a" stroke-width="1.4"/>
<line x1="117.9" y1="717.4" x2="117.9" y2="725" stroke="#1a1a1a" stroke-width="1.4"/>
<line x1="112.2" y1="660.5" x2="123.60000000000001" y2="660.5" stroke="#1a1a1a" stroke-width="1.4"/>
<line x1="112.2" y1="725" x2="123.60000000000001" y2="725" stroke="#1a1a1a" stroke-width="1.4"/>
<rect x="107.50" y="677.50" width="21.00" height="39.90" fill="none" stroke="#1a1a1a" stroke-width="1.4"/>
<line x1="107.5" y1="712.3" x2="128.5" y2="712.3" stroke="#1a1a1a" stroke-width="1.4"/>
<text x="250" y="612.8" text-anchor="middle" fill="#000" style="font-size:14px;">VSV-G 60&#8217;</text>
<line x1="203.2" y1="614" x2="203.2" y2="762.3" stroke="#1a1a1a" stroke-width="1.6"/>
<line x1="202.5" y1="761.6" x2="291.5" y2="761.6" stroke="#1a1a1a" stroke-width="1.6"/>
<line x1="197.2" y1="761.6" x2="203.2" y2="761.6" stroke="#1a1a1a" stroke-width="1.4"/>
<text x="192.4" y="767.7" text-anchor="end" fill="#000" style="font-size:14px;">0</text>
<line x1="197.2" y1="737.0400000000001" x2="203.2" y2="737.0400000000001" stroke="#1a1a1a" stroke-width="1.4"/>
<text x="192.4" y="743.1400000000001" text-anchor="end" fill="#000" style="font-size:14px;">20</text>
<line x1="197.2" y1="712.48" x2="203.2" y2="712.48" stroke="#1a1a1a" stroke-width="1.4"/>
<text x="192.4" y="718.58" text-anchor="end" fill="#000" style="font-size:14px;">40</text>
<line x1="197.2" y1="687.9200000000001" x2="203.2" y2="687.9200000000001" stroke="#1a1a1a" stroke-width="1.4"/>
<text x="192.4" y="694.0200000000001" text-anchor="end" fill="#000" style="font-size:14px;">60</text>
<line x1="197.2" y1="663.36" x2="203.2" y2="663.36" stroke="#1a1a1a" stroke-width="1.4"/>
<text x="192.4" y="669.46" text-anchor="end" fill="#000" style="font-size:14px;">80</text>
<line x1="197.2" y1="638.8000000000001" x2="203.2" y2="638.8000000000001" stroke="#1a1a1a" stroke-width="1.4"/>
<text x="192.4" y="644.9000000000001" text-anchor="end" fill="#000" style="font-size:14px;">100</text>
<line x1="197.2" y1="614.24" x2="203.2" y2="614.24" stroke="#1a1a1a" stroke-width="1.4"/>
<text x="192.4" y="620.34" text-anchor="end" fill="#000" style="font-size:14px;">120</text>
<text x="169" y="689" text-anchor="middle" fill="#000" style="font-size:14px;" transform="rotate(-90 169 689)">% of Viruses</text>
<line x1="228" y1="761.6" x2="228" y2="767.5" stroke="#1a1a1a" stroke-width="1.4"/>
<line x1="265.5" y1="761.6" x2="265.5" y2="767.5" stroke="#1a1a1a" stroke-width="1.4"/>
<text x="226" y="781" text-anchor="middle" fill="#000" style="font-size:14px;">Ctl</text>
<text x="264.5" y="781" text-anchor="middle" fill="#000" style="font-size:14px;">M7KD</text>
<rect x="216.30" y="750.79" width="23.40" height="10.81" fill="#808080" stroke="#1a1a1a" stroke-width="1.3"/>
<rect x="216.30" y="704.38" width="23.40" height="46.42" fill="#ff8080" stroke="#1a1a1a" stroke-width="1.3"/>
<rect x="216.30" y="655.50" width="23.40" height="48.87" fill="#4f9cf5" stroke="#1a1a1a" stroke-width="1.3"/>
<rect x="216.30" y="651.20" width="23.40" height="4.30" fill="#b25ddd" stroke="#1a1a1a" stroke-width="1.3"/>
<rect x="216.30" y="640.64" width="23.40" height="10.56" fill="#0bb80b" stroke="#1a1a1a" stroke-width="1.3"/>
<line x1="228" y1="750.7936" x2="228" y2="747.1096" stroke="#1a1a1a" stroke-width="1.3"/>
<line x1="223" y1="747.1096" x2="233" y2="747.1096" stroke="#1a1a1a" stroke-width="1.3"/>
<line x1="228" y1="704.3752000000001" x2="228" y2="698.972" stroke="#1a1a1a" stroke-width="1.3"/>
<line x1="223" y1="698.972" x2="233" y2="698.972" stroke="#1a1a1a" stroke-width="1.3"/>
<line x1="228" y1="655.5008" x2="228" y2="653.1676" stroke="#1a1a1a" stroke-width="1.3"/>
<line x1="223" y1="653.1676" x2="233" y2="653.1676" stroke="#1a1a1a" stroke-width="1.3"/>
<line x1="228" y1="651.2028" x2="228" y2="648.3784" stroke="#1a1a1a" stroke-width="1.3"/>
<line x1="223" y1="648.3784" x2="233" y2="648.3784" stroke="#1a1a1a" stroke-width="1.3"/>
<line x1="228" y1="640.642" x2="228" y2="636.9580000000001" stroke="#1a1a1a" stroke-width="1.3"/>
<line x1="223" y1="636.9580000000001" x2="233" y2="636.9580000000001" stroke="#1a1a1a" stroke-width="1.3"/>
<rect x="253.80" y="747.11" width="23.40" height="14.49" fill="#808080" stroke="#1a1a1a" stroke-width="1.3"/>
<rect x="253.80" y="693.94" width="23.40" height="53.17" fill="#ff8080" stroke="#1a1a1a" stroke-width="1.3"/>
<rect x="253.80" y="646.41" width="23.40" height="47.52" fill="#4f9cf5" stroke="#1a1a1a" stroke-width="1.3"/>
<rect x="253.80" y="642.98" width="23.40" height="3.44" fill="#b25ddd" stroke="#1a1a1a" stroke-width="1.3"/>
<rect x="253.80" y="640.15" width="23.40" height="2.82" fill="#0bb80b" stroke="#1a1a1a" stroke-width="1.3"/>
<line x1="265.5" y1="747.1096" x2="265.5" y2="744.2852" stroke="#1a1a1a" stroke-width="1.3"/>
<line x1="260.5" y1="744.2852" x2="270.5" y2="744.2852" stroke="#1a1a1a" stroke-width="1.3"/>
<line x1="265.5" y1="693.9372000000001" x2="265.5" y2="689.6392000000001" stroke="#1a1a1a" stroke-width="1.3"/>
<line x1="260.5" y1="689.6392000000001" x2="270.5" y2="689.6392000000001" stroke="#1a1a1a" stroke-width="1.3"/>
<line x1="265.5" y1="646.4136000000001" x2="265.5" y2="644.326" stroke="#1a1a1a" stroke-width="1.3"/>
<line x1="260.5" y1="644.326" x2="270.5" y2="644.326" stroke="#1a1a1a" stroke-width="1.3"/>
<line x1="265.5" y1="642.9752000000001" x2="265.5" y2="641.2560000000001" stroke="#1a1a1a" stroke-width="1.3"/>
<line x1="260.5" y1="641.2560000000001" x2="270.5" y2="641.2560000000001" stroke="#1a1a1a" stroke-width="1.3"/>
<line x1="265.5" y1="640.1508" x2="265.5" y2="638.4316" stroke="#1a1a1a" stroke-width="1.3"/>
<line x1="260.5" y1="638.4316" x2="270.5" y2="638.4316" stroke="#1a1a1a" stroke-width="1.3"/>
<rect x="292.1" y="651.9" width="14.6" height="6.8" fill="#808080" stroke="#1a1a1a" stroke-width="1.3"/>
<text x="309.6" y="658.0999999999999" fill="#000" style="font-size:12.6px;">PM</text>
<rect x="292.1" y="667.3000000000001" width="14.6" height="6.8" fill="#ff8080" stroke="#1a1a1a" stroke-width="1.3"/>
<text x="309.6" y="673.5" fill="#000" style="font-size:12.6px;">EEA1</text>
<rect x="292.1" y="682.6" width="14.6" height="6.8" fill="#4f9cf5" stroke="#1a1a1a" stroke-width="1.3"/>
<text x="309.6" y="688.8" fill="#000" style="font-size:12.6px;">NPC1</text>
<rect x="292.1" y="697.7" width="14.6" height="6.8" fill="#b25ddd" stroke="#1a1a1a" stroke-width="1.3"/>
<text x="309.6" y="703.9" fill="#000" style="font-size:12.6px;">Both</text>
<rect x="292.1" y="713.2" width="14.6" height="6.8" fill="#0bb80b" stroke="#1a1a1a" stroke-width="1.3"/>
<text x="309.6" y="719.4" fill="#000" style="font-size:12.6px;">Free</text>
<text x="352.5" y="609.2" fill="#000" style="font-size:18px;">f</text>
<text x="451.4" y="611.8" text-anchor="middle" fill="#000" style="font-size:14px;">VSV-LCMV 60&#8217;</text>
<line x1="404" y1="614" x2="404" y2="761.9" stroke="#1a1a1a" stroke-width="1.6"/>
<line x1="398" y1="761.2" x2="485.5" y2="761.2" stroke="#1a1a1a" stroke-width="1.6"/>
<line x1="398" y1="761.2" x2="404" y2="761.2" stroke="#1a1a1a" stroke-width="1.4"/>
<text x="394.6" y="766.5" text-anchor="end" fill="#000" style="font-size:14px;">0</text>
<line x1="398" y1="724.3000000000001" x2="404" y2="724.3000000000001" stroke="#1a1a1a" stroke-width="1.4"/>
<text x="394.6" y="729.6" text-anchor="end" fill="#000" style="font-size:14px;">100</text>
<line x1="398" y1="687.4000000000001" x2="404" y2="687.4000000000001" stroke="#1a1a1a" stroke-width="1.4"/>
<text x="394.6" y="692.7" text-anchor="end" fill="#000" style="font-size:14px;">200</text>
<line x1="398" y1="650.5" x2="404" y2="650.5" stroke="#1a1a1a" stroke-width="1.4"/>
<text x="394.6" y="655.8" text-anchor="end" fill="#000" style="font-size:14px;">300</text>
<line x1="398" y1="613.6" x2="404" y2="613.6" stroke="#1a1a1a" stroke-width="1.4"/>
<text x="394.6" y="618.9" text-anchor="end" fill="#000" style="font-size:14px;">400</text>
<text x="367.5" y="690.5" text-anchor="middle" fill="#000" style="font-size:14px;" transform="rotate(-90 367.5 690.5)"># of Viruses</text>
<line x1="427.3" y1="761.2" x2="427.3" y2="767.2" stroke="#1a1a1a" stroke-width="1.4"/>
<line x1="462.2" y1="761.2" x2="462.2" y2="767.2" stroke="#1a1a1a" stroke-width="1.4"/>
<text x="423.5" y="781" text-anchor="middle" fill="#000" style="font-size:14px;">Ctl</text>
<text x="462.5" y="781" text-anchor="middle" fill="#000" style="font-size:14px;">M7KD</text>
<text x="428.5" y="630.5" fill="#7f7f7f" style="font-size:10px;font-style:italic;" textLength="37.5" lengthAdjust="spacingAndGlyphs">p = 0.0697</text>
<line x1="428.5" y1="634.2" x2="465.5" y2="634.2" stroke="#8c8c8c" stroke-width="1.3"/>
<circle cx="427.10" cy="640.80" r="2.3" fill="#858585"/>
<circle cx="427.10" cy="703.60" r="2.3" fill="#858585"/>
<circle cx="417.50" cy="714.80" r="2.3" fill="#858585"/>
<circle cx="436.60" cy="714.80" r="2.3" fill="#858585"/>
<circle cx="427.10" cy="718.60" r="2.3" fill="#858585"/>
<circle cx="427.10" cy="726.90" r="2.3" fill="#858585"/>
<circle cx="417.50" cy="730.10" r="2.3" fill="#858585"/>
<circle cx="436.60" cy="730.10" r="2.3" fill="#858585"/>
<circle cx="427.10" cy="735.60" r="2.3" fill="#858585"/>
<circle cx="427.10" cy="744.40" r="2.3" fill="#858585"/>
<line x1="427.1" y1="640.8" x2="427.1" y2="713.1" stroke="#1a1a1a" stroke-width="1.4"/>
<line x1="427.1" y1="730.6" x2="427.1" y2="744.4" stroke="#1a1a1a" stroke-width="1.4"/>
<line x1="421.3" y1="640.8" x2="432.90000000000003" y2="640.8" stroke="#1a1a1a" stroke-width="1.4"/>
<line x1="421.3" y1="744.4" x2="432.90000000000003" y2="744.4" stroke="#1a1a1a" stroke-width="1.4"/>
<rect x="416.40" y="713.10" width="21.40" height="17.50" fill="none" stroke="#1a1a1a" stroke-width="1.4"/>
<line x1="416.4" y1="722.8" x2="437.8" y2="722.8" stroke="#1a1a1a" stroke-width="1.4"/>
<circle cx="461.90" cy="711.80" r="2.3" fill="#0a0aff"/>
<circle cx="461.90" cy="726.40" r="2.3" fill="#0a0aff"/>
<circle cx="452.40" cy="730.60" r="2.3" fill="#0a0aff"/>
<circle cx="458.50" cy="732.60" r="2.3" fill="#0a0aff"/>
<circle cx="464.90" cy="730.90" r="2.3" fill="#0a0aff"/>
<circle cx="471.20" cy="733.40" r="2.3" fill="#0a0aff"/>
<circle cx="464.90" cy="740.90" r="2.3" fill="#0a0aff"/>
<circle cx="458.50" cy="744.40" r="2.3" fill="#0a0aff"/>
<circle cx="464.90" cy="747.20" r="2.3" fill="#0a0aff"/>
<circle cx="461.90" cy="752.20" r="2.3" fill="#0a0aff"/>
<line x1="461.9" y1="711.8" x2="461.9" y2="730.6" stroke="#1a1a1a" stroke-width="1.4"/>
<line x1="461.9" y1="744.4" x2="461.9" y2="752.2" stroke="#1a1a1a" stroke-width="1.4"/>
<line x1="456.09999999999997" y1="711.8" x2="467.7" y2="711.8" stroke="#1a1a1a" stroke-width="1.4"/>
<line x1="456.09999999999997" y1="752.2" x2="467.7" y2="752.2" stroke="#1a1a1a" stroke-width="1.4"/>
<rect x="451.30" y="730.60" width="21.30" height="13.80" fill="none" stroke="#1a1a1a" stroke-width="1.4"/>
<line x1="451.3" y1="733.1" x2="472.6" y2="733.1" stroke="#1a1a1a" stroke-width="1.4"/>
<text x="593.2" y="612.8" text-anchor="middle" fill="#000" style="font-size:14px;">VSV-LCMV 60&#8217;</text>
<line x1="546.9" y1="614" x2="546.9" y2="761.5" stroke="#1a1a1a" stroke-width="1.6"/>
<line x1="546.2" y1="760.8" x2="635.2" y2="760.8" stroke="#1a1a1a" stroke-width="1.6"/>
<line x1="541" y1="760.8" x2="546.9" y2="760.8" stroke="#1a1a1a" stroke-width="1.4"/>
<text x="535.6" y="766.9" text-anchor="end" fill="#000" style="font-size:14px;">0</text>
<line x1="541" y1="736.366" x2="546.9" y2="736.366" stroke="#1a1a1a" stroke-width="1.4"/>
<text x="535.6" y="742.466" text-anchor="end" fill="#000" style="font-size:14px;">20</text>
<line x1="541" y1="711.9319999999999" x2="546.9" y2="711.9319999999999" stroke="#1a1a1a" stroke-width="1.4"/>
<text x="535.6" y="718.0319999999999" text-anchor="end" fill="#000" style="font-size:14px;">40</text>
<line x1="541" y1="687.4979999999999" x2="546.9" y2="687.4979999999999" stroke="#1a1a1a" stroke-width="1.4"/>
<text x="535.6" y="693.598" text-anchor="end" fill="#000" style="font-size:14px;">60</text>
<line x1="541" y1="663.064" x2="546.9" y2="663.064" stroke="#1a1a1a" stroke-width="1.4"/>
<text x="535.6" y="669.164" text-anchor="end" fill="#000" style="font-size:14px;">80</text>
<line x1="541" y1="638.63" x2="546.9" y2="638.63" stroke="#1a1a1a" stroke-width="1.4"/>
<text x="535.6" y="644.73" text-anchor="end" fill="#000" style="font-size:14px;">100</text>
<line x1="541" y1="614.1959999999999" x2="546.9" y2="614.1959999999999" stroke="#1a1a1a" stroke-width="1.4"/>
<text x="535.6" y="620.2959999999999" text-anchor="end" fill="#000" style="font-size:14px;">120</text>
<text x="512" y="689" text-anchor="middle" fill="#000" style="font-size:14px;" transform="rotate(-90 512 689)">% of Viruses</text>
<line x1="571" y1="760.8" x2="571" y2="766.8" stroke="#1a1a1a" stroke-width="1.4"/>
<line x1="609" y1="760.8" x2="609" y2="766.8" stroke="#1a1a1a" stroke-width="1.4"/>
<text x="569.5" y="781" text-anchor="middle" fill="#000" style="font-size:14px;">Ctl</text>
<text x="609" y="781" text-anchor="middle" fill="#000" style="font-size:14px;">M7KD</text>
<rect x="559.10" y="757.13" width="23.80" height="3.67" fill="#808080" stroke="#1a1a1a" stroke-width="1.3"/>
<rect x="559.10" y="730.01" width="23.80" height="27.12" fill="#ff8080" stroke="#1a1a1a" stroke-width="1.3"/>
<rect x="559.10" y="648.40" width="23.80" height="81.61" fill="#4f9cf5" stroke="#1a1a1a" stroke-width="1.3"/>
<rect x="559.10" y="644.74" width="23.80" height="3.67" fill="#b25ddd" stroke="#1a1a1a" stroke-width="1.3"/>
<rect x="559.10" y="638.39" width="23.80" height="6.35" fill="#0bb80b" stroke="#1a1a1a" stroke-width="1.3"/>
<line x1="571" y1="757.1348999999999" x2="571" y2="754.4471599999999" stroke="#1a1a1a" stroke-width="1.3"/>
<line x1="566" y1="754.4471599999999" x2="576" y2="754.4471599999999" stroke="#1a1a1a" stroke-width="1.3"/>
<line x1="571" y1="730.01316" x2="571" y2="726.5924" stroke="#1a1a1a" stroke-width="1.3"/>
<line x1="566" y1="726.5924" x2="576" y2="726.5924" stroke="#1a1a1a" stroke-width="1.3"/>
<line x1="571" y1="648.4036" x2="571" y2="646.57105" stroke="#1a1a1a" stroke-width="1.3"/>
<line x1="566" y1="646.57105" x2="576" y2="646.57105" stroke="#1a1a1a" stroke-width="1.3"/>
<line x1="571" y1="644.7384999999999" x2="571" y2="642.90595" stroke="#1a1a1a" stroke-width="1.3"/>
<line x1="566" y1="642.90595" x2="576" y2="642.90595" stroke="#1a1a1a" stroke-width="1.3"/>
<line x1="571" y1="638.3856599999999" x2="571" y2="636.43094" stroke="#1a1a1a" stroke-width="1.3"/>
<line x1="566" y1="636.43094" x2="576" y2="636.43094" stroke="#1a1a1a" stroke-width="1.3"/>
<rect x="597.60" y="754.20" width="23.20" height="6.60" fill="#808080" stroke="#1a1a1a" stroke-width="1.3"/>
<rect x="597.60" y="731.48" width="23.20" height="22.72" fill="#ff8080" stroke="#1a1a1a" stroke-width="1.3"/>
<rect x="597.60" y="650.60" width="23.20" height="80.88" fill="#4f9cf5" stroke="#1a1a1a" stroke-width="1.3"/>
<rect x="597.60" y="642.66" width="23.20" height="7.94" fill="#b25ddd" stroke="#1a1a1a" stroke-width="1.3"/>
<rect x="597.60" y="641.20" width="23.20" height="1.47" fill="#0bb80b" stroke="#1a1a1a" stroke-width="1.3"/>
<line x1="609.2" y1="754.20282" x2="609.2" y2="750.29338" stroke="#1a1a1a" stroke-width="1.3"/>
<line x1="604.2" y1="750.29338" x2="614.2" y2="750.29338" stroke="#1a1a1a" stroke-width="1.3"/>
<line x1="609.2" y1="731.4792" x2="609.2" y2="727.2032499999999" stroke="#1a1a1a" stroke-width="1.3"/>
<line x1="604.2" y1="727.2032499999999" x2="614.2" y2="727.2032499999999" stroke="#1a1a1a" stroke-width="1.3"/>
<line x1="609.2" y1="650.6026599999999" x2="609.2" y2="649.0144499999999" stroke="#1a1a1a" stroke-width="1.3"/>
<line x1="604.2" y1="649.0144499999999" x2="614.2" y2="649.0144499999999" stroke="#1a1a1a" stroke-width="1.3"/>
<line x1="609.2" y1="642.66161" x2="609.2" y2="641.6842499999999" stroke="#1a1a1a" stroke-width="1.3"/>
<line x1="604.2" y1="641.6842499999999" x2="614.2" y2="641.6842499999999" stroke="#1a1a1a" stroke-width="1.3"/>
<line x1="609.2" y1="641.19557" x2="609.2" y2="639.2408499999999" stroke="#1a1a1a" stroke-width="1.3"/>
<line x1="604.2" y1="639.2408499999999" x2="614.2" y2="639.2408499999999" stroke="#1a1a1a" stroke-width="1.3"/>
<rect x="636.8" y="651.9" width="14.6" height="6.8" fill="#808080" stroke="#1a1a1a" stroke-width="1.3"/>
<text x="654.3" y="658.0999999999999" fill="#000" style="font-size:12.6px;">PM</text>
<rect x="636.8" y="667.3000000000001" width="14.6" height="6.8" fill="#ff8080" stroke="#1a1a1a" stroke-width="1.3"/>
<text x="654.3" y="673.5" fill="#000" style="font-size:12.6px;">EEA1</text>
<rect x="636.8" y="682.6" width="14.6" height="6.8" fill="#4f9cf5" stroke="#1a1a1a" stroke-width="1.3"/>
<text x="654.3" y="688.8" fill="#000" style="font-size:12.6px;">NPC1</text>
<rect x="636.8" y="697.7" width="14.6" height="6.8" fill="#b25ddd" stroke="#1a1a1a" stroke-width="1.3"/>
<text x="654.3" y="703.9" fill="#000" style="font-size:12.6px;">Both</text>
<rect x="636.8" y="713.2" width="14.6" height="6.8" fill="#0bb80b" stroke="#1a1a1a" stroke-width="1.3"/>
<text x="654.3" y="719.4" fill="#000" style="font-size:12.6px;">Free</text>
</svg>
</body></html>
